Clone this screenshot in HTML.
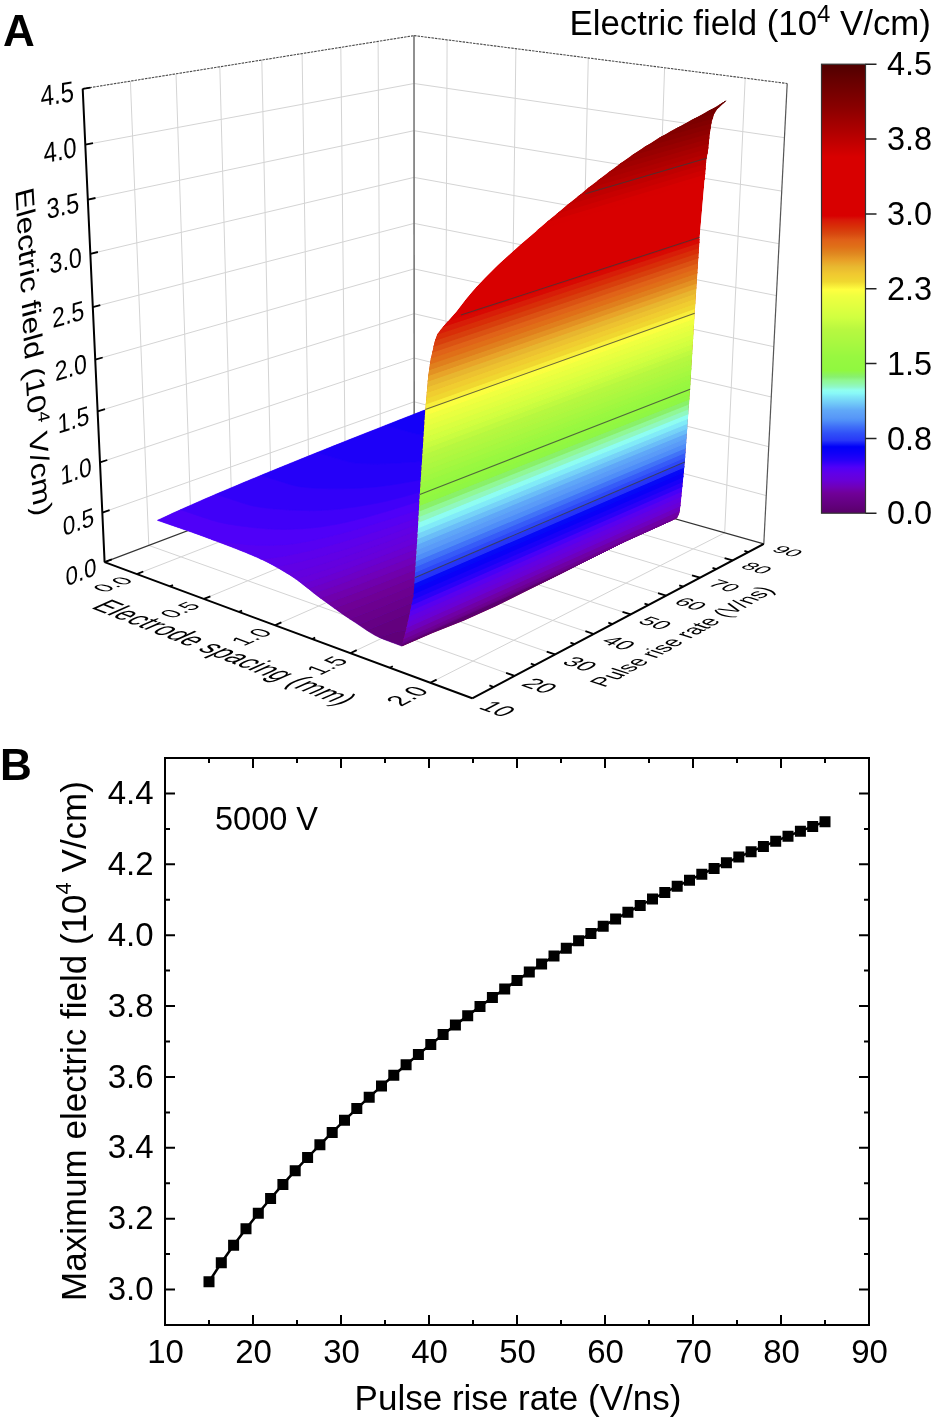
<!DOCTYPE html>
<html><head><meta charset="utf-8"><style>html,body{margin:0;padding:0;background:#fff}svg{display:block;will-change:transform}</style></head>
<body>
<svg width="934" height="1420" viewBox="0 0 934 1420" font-family="Liberation Sans, sans-serif">
<rect width="934" height="1420" fill="#fff"/>
<path d="M148.8,545.4 L130.4,81.2M191.2,529.4 L176,73.8M231.9,514 L219.8,66.8M271.2,499.1 L261.8,60.1M308.9,484.8 L302.1,53.6M345.3,471.1 L340.8,47.4M380.4,457.8 L378.1,41.4M102.3,512.6 L414.2,401.8M100,462.4 L414.1,358M97.6,411.4 L414.1,313.7M95.2,359.6 L414.1,268.9M92.8,307.1 L414.1,223.4M90.4,253.8 L414,177.4M87.9,199.6 L414,130.7M85.3,144.7 L414,83.5M445.4,453.8 L447.1,39.9M510.2,472.2 L515.9,48.7M578.2,491.4 L588.3,58M649.6,511.6 L664.6,67.7M724.7,532.8 L745.2,78.1M414.2,401.8 L766.3,495.6M414.1,358 L768.8,446.7M414.1,313.7 L771.3,397M414.1,268.9 L773.8,346.7M414.1,223.4 L776.4,295.6M414,177.4 L779.1,243.7M414,130.7 L781.8,191.1M414,83.5 L784.5,137.7M136.8,574.1 L445.4,453.8M203.9,598.9 L510.2,472.2M275,625.3 L578.2,491.4M350.3,653.2 L649.6,511.6M430.3,682.8 L724.7,532.8M148.8,545.4 L514.6,675.9M191.2,529.4 L555,654.4M231.9,514 L593.7,634M271.2,499.1 L630.7,614.4M308.9,484.8 L666.1,595.6M345.3,471.1 L700,577.7M380.4,457.8 L732.6,560.4" stroke="#d4d4d4" stroke-width="1" fill="none"/>
<path d="M82.7,88.8 L414,35.6M414,35.6 L787.2,83.5" stroke="#4a4a4a" stroke-width="1.1" stroke-dasharray="2.5,1" fill="none"/>
<path d="M414.2,445 L414,35.6" stroke="#777" stroke-width="1.6" fill="none"/>
<path d="M763.8,543.9 L787.2,83.5" stroke="#555" stroke-width="1.2" fill="none"/>
<path d="M104.6,562.1 L414.2,445M414.2,445 L763.8,543.9" stroke="#333" stroke-width="1.15" fill="none"/>
<path d="M104.6,562.1 L82.7,88.8M104.6,562.1 L472.2,698.3M472.2,698.3 L763.8,543.9" stroke="#000" stroke-width="2" fill="none" stroke-linejoin="miter"/>
<path d="M104.6,562.1 L111.8,559.4M102.3,512.6 L109.6,510.1M100,462.4 L107.3,460M97.6,411.4 L105,409.1M95.2,359.6 L102.7,357.5M92.8,307.1 L100.3,305.2M90.4,253.8 L97.9,252M87.9,199.6 L95.5,198M85.3,144.7 L93,143.2M82.7,88.8 L90.5,87.6M136.8,574.1 L143.3,571.5M169.9,586.3 L173,585.1M203.9,598.9 L210.4,596.3M238.9,611.9 L242.1,610.6M275,625.3 L281.4,622.4M312.1,639 L315.2,637.6M350.3,653.2 L356.7,650.1M389.7,667.8 L392.8,666.3M430.3,682.8 L436.6,679.6M493.6,687 L489.4,685.4M514.6,675.9 L506.1,672.9M535,665 L530.8,663.6M555,654.4 L546.7,651.6M574.6,644.1 L570.4,642.7M593.7,634 L585.4,631.2M612.4,624.1 L608.3,622.7M630.7,614.4 L622.5,611.8M648.6,604.9 L644.5,603.6M666.1,595.6 L658,593.1M683.2,586.6 L679.2,585.3M700,577.7 L692,575.3M716.5,569 L712.5,567.8M732.6,560.4 L724.6,558.1M748.3,552.1 L744.4,550.9" stroke="#000" stroke-width="1.8" fill="none"/>
<clipPath id="pc"><polygon points="330,700 401.6,646.4 432.1,633.3 464.2,620.5 496.4,606 528.5,590 560.6,573.9 592.7,557.8 624.9,541.8 657,527.3 673,520 700,508 700,0 100,0 100,700"/></clipPath><g clip-path="url(#pc)">
<polygon points="157.4,520.3 163.1,522.3 168.8,524.3 174.5,526.3 180.3,528.3 186.1,530.3 192,532.3 197.8,534.4 203.7,536.5 209.7,538.7 215.6,540.9 221.6,543.2 227.6,545.5 233.7,547.8 239.7,550.2 245.8,552.6 252,555.2 258.2,557.8 264.4,560.7 270.6,563.9 276.9,567.3 283.2,571 289.5,574.8 295.9,579.1 302.3,583.9 308.8,589 315.2,594.2 321.7,599 328.2,603.8 334.8,608.5 341.4,613.2 348,617.7 354.6,622.1 361.3,626.6 368,631.1 374.7,635.1 381.4,638.4 388.2,641 395,643.6 401.9,646.1 401.9,646.1 412.8,641.1 423.7,636.3 434.4,631.4 445,626.7 455.5,622 465.9,617.3 476.2,612.7 486.4,608.2 496.4,603.6 506.4,599.2 516.3,594.8 526.1,590.4 535.8,586.1 545.4,581.8 554.9,577.5 564.3,573.3 573.6,569.2 582.8,565 592,560.9 601,556.9 610,552.9 618.9,548.9 627.7,545 636.4,541 645,537.2 653.6,533.3 662.1,529.5 670.5,525.8 678.8,522 678.8,522 671.8,520.9 664.8,519.3 657.9,517.4 651,515.3 644.1,513.2 637.3,510.4 630.6,506.6 623.9,502.2 617.2,497.7 610.6,493.4 604,488.9 597.4,484.1 590.8,479.3 584.3,474.5 577.8,469.3 571.4,464 564.9,458.8 558.5,454.3 552.1,450.4 545.7,446.8 539.3,443.5 532.9,440.4 526.6,437.8 520.3,435.5 514,433.3 507.7,431.2 501.5,429.1 495.3,427.2 489.1,425.3 483,423.4 476.9,421.6 470.8,419.8 464.7,418.1 458.6,416.4 452.6,414.8 446.6,413.2 440.7,411.6 434.7,410 428.8,408.4 428.8,408.4 420.6,411.6 412.3,414.9 403.9,418.1 395.5,421.4 387,424.8 378.4,428.2 369.7,431.6 361,435 352.2,438.5 343.2,442.1 334.3,445.6 325.2,449.3 316,452.9 306.8,456.6 297.5,460.4 288.1,464.2 278.6,468.1 269,472 259.3,476 249.5,480.1 239.7,484.2 229.7,488.4 219.7,492.6 209.5,497 199.3,501.4 189,505.9 178.5,510.6 168,515.4 157.4,520.3" fill="#5300f5"/>
<path d="M379.6,637.6 L381.8,638.6 L384,639.4 L386.2,640.3 L388.4,641.1 L390.7,642 L392.9,642.8 L395.1,643.6 L397.4,644.4 L399.6,645.3 L401.9,646.1 L405.1,644.6 L408.3,643.2 L411.5,641.7 L414.7,640.3 L417.9,638.9 L421,637.4 L424.2,636 L427.4,634.6 L430.5,633.2 L433.6,631.8 L435.6,630.9 L435.3,629.9 L435.2,629.3 L432.6,628.7 L431.6,628.6 L429.2,628.4 L425.1,628.4 L424.2,628.4 L420.4,628.6 L418.4,628.9 L415.2,629.2 L413,629.4 L409.5,629.9 L407.9,630.1 L403.6,630.7 L402.9,630.8 L398,631.5 L397.3,631.6 L394,632.6 L390.2,633.8 L386.4,635 L383.3,635.9 L382.7,636.1 L379.2,637.4 L379.6,637.6Z" fill="#600079" stroke="#600079" stroke-width="0.5" fill-rule="evenodd"/>
<path d="M368.5,631.4 L370.7,632.8 L372.9,634.1 L375.1,635.4 L377.4,636.5 L379.2,637.4 L382.7,636.1 L383.3,635.9 L386.4,635 L390.2,633.8 L394,632.6 L397.3,631.6 L398,631.5 L402.9,630.8 L403.6,630.7 L407.9,630.1 L409.5,629.9 L413,629.4 L415.2,629.2 L418.4,628.9 L420.4,628.6 L424.2,628.4 L425.1,628.4 L429.2,628.4 L431.6,628.6 L432.6,628.7 L435.2,629.3 L435.3,629.9 L435.6,630.9 L436.7,630.4 L439.9,629 L443,627.6 L446.1,626.2 L449.1,624.8 L452.2,623.4 L455.3,622.1 L458.3,620.7 L461.4,619.3 L464.4,618 L467.4,616.6 L470.5,615.3 L473.5,613.9 L476.5,612.6 L479.5,611.2 L482.5,609.9 L485.4,608.6 L488.4,607.2 L491.4,605.9 L494.3,604.6 L497.3,603.3 L500.2,602 L503.1,600.7 L506,599.4 L508.9,598.1 L511.8,596.8 L514.7,595.5 L517.6,594.2 L520.5,592.9 L523.3,591.6 L526.2,590.3 L529,589.1 L531.9,587.8 L534.7,586.5 L537.5,585.3 L540.3,584 L543.2,582.8 L546,581.5 L548.7,580.3 L551.5,579 L554.3,577.8 L557.1,576.5 L559.8,575.3 L562.6,574.1 L565.3,572.9 L568.1,571.6 L570.8,570.4 L573.5,569.2 L576.2,568 L578.9,566.8 L581.6,565.6 L584.3,564.4 L587,563.2 L589.7,562 L592.3,560.8 L595,559.6 L597.7,558.4 L600.3,557.2 L602.9,556 L605.6,554.9 L608.2,553.7 L610.8,552.5 L613.4,551.3 L616,550.2 L618.6,549 L621.2,547.9 L623.8,546.7 L626.4,545.5 L628.9,544.4 L631.5,543.3 L634,542.1 L636.6,541 L639.1,539.8 L641.6,538.7 L643.6,537.8 L644.1,537.6 L646.3,536.4 L648.6,535.2 L650.8,534 L653,532.9 L655.2,531.7 L657.4,530.6 L659.6,529.4 L661.8,528.3 L662.1,528.1 L664,527.1 L666.2,526 L668.4,524.8 L670.5,523.7 L672.7,522.5 L674.9,521.4 L674.2,521.3 L671.9,520.9 L669.6,520.4 L667.3,519.9 L665,519.4 L662.8,518.8 L660.5,518.2 L658.2,517.5 L656,516.8 L653.7,516.2 L651.4,515.5 L649.2,514.8 L646.9,514.1 L644.7,513.4 L642.5,512.7 L640.2,511.8 L639,511.3 L636.7,512.3 L634.3,513.4 L631.9,514.4 L629.6,515.5 L627.2,516.6 L624.8,517.6 L622.4,518.7 L620,519.8 L617.6,520.8 L615.2,521.9 L612.8,523 L610.3,524.1 L607.9,525.2 L605.4,526.3 L603,527.3 L600.5,528.4 L598.1,529.5 L596.3,530.3 L595.6,530.6 L593.1,531.8 L590.7,532.9 L588.2,534 L585.7,535.1 L583.2,536.2 L580.7,537.3 L578.2,538.5 L575.7,539.6 L573.1,540.7 L570.6,541.9 L568.1,543 L565.5,544.2 L562.9,545.3 L560.4,546.4 L557.8,547.6 L555.2,548.7 L552.6,549.9 L550,551.1 L547.4,552.2 L544.8,553.4 L542.2,554.6 L539.5,555.7 L536.9,556.9 L534.2,558.1 L531.6,559.3 L528.9,560.4 L526.2,561.6 L523.5,562.8 L520.8,564 L518.1,565.2 L515.4,566.4 L512.7,567.6 L510.3,568.7 L510,568.8 L507.2,570 L504.5,571.2 L501.8,572.4 L499,573.7 L496.2,574.9 L493.5,576.1 L490.7,577.4 L487.9,578.6 L485.1,579.8 L482.3,581.1 L479.4,582.3 L476.6,583.6 L473.8,584.8 L470.9,586.1 L468,587.3 L465.2,588.6 L462.3,589.8 L459.4,591.1 L456.5,592.4 L453.6,593.6 L450.6,594.9 L447.7,596.2 L444.7,597.5 L441.8,598.7 L438.8,600 L435.8,601.3 L432.8,602.6 L429.8,603.9 L426.8,605.2 L423.8,606.5 L420.7,607.8 L417.7,609.1 L414.6,610.4 L411.5,611.7 L408.4,613.1 L405.3,614.4 L402.2,615.7 L399.1,617 L395.9,618.3 L392.8,619.7 L389.6,621 L386.4,622.3 L383.2,623.6 L379.9,625 L376.7,626.3 L373.4,627.6 L370.1,629 L366.8,630.3 L368.5,631.4Z" fill="#63007e" stroke="#63007e" stroke-width="0.5" fill-rule="evenodd"/>
<path d="M359.8,625.6 L362,627.1 L364.1,628.5 L366.3,630 L366.8,630.3 L370.1,629 L373.4,627.6 L376.7,626.3 L379.9,625 L383.2,623.6 L386.4,622.3 L389.6,621 L392.8,619.7 L395.9,618.3 L399.1,617 L402.2,615.7 L405.3,614.4 L408.4,613.1 L411.5,611.7 L414.6,610.4 L417.7,609.1 L420.7,607.8 L423.8,606.5 L426.8,605.2 L429.8,603.9 L432.8,602.6 L435.8,601.3 L438.8,600 L441.8,598.7 L444.7,597.5 L447.7,596.2 L450.6,594.9 L453.6,593.6 L456.5,592.4 L459.4,591.1 L462.3,589.8 L465.2,588.6 L468,587.3 L470.9,586.1 L473.8,584.8 L476.6,583.6 L479.4,582.3 L482.3,581.1 L485.1,579.8 L487.9,578.6 L490.7,577.4 L493.5,576.1 L496.2,574.9 L499,573.7 L501.8,572.4 L504.5,571.2 L507.2,570 L510,568.8 L510.3,568.7 L512.7,567.6 L515.4,566.4 L518.1,565.2 L520.8,564 L523.5,562.8 L526.2,561.6 L528.9,560.4 L531.6,559.3 L534.2,558.1 L536.9,556.9 L539.5,555.7 L542.2,554.6 L544.8,553.4 L547.4,552.2 L550,551.1 L552.6,549.9 L555.2,548.7 L557.8,547.6 L560.4,546.4 L562.9,545.3 L565.5,544.2 L568.1,543 L570.6,541.9 L573.1,540.7 L575.7,539.6 L578.2,538.5 L580.7,537.3 L583.2,536.2 L585.7,535.1 L588.2,534 L590.7,532.9 L593.1,531.8 L595.6,530.6 L596.3,530.3 L598.1,529.5 L600.5,528.4 L603,527.3 L605.4,526.3 L607.9,525.2 L610.3,524.1 L612.8,523 L615.2,521.9 L617.6,520.8 L620,519.8 L622.4,518.7 L624.8,517.6 L627.2,516.6 L629.6,515.5 L631.9,514.4 L634.3,513.4 L636.7,512.3 L639,511.3 L638,510.8 L635.8,509.6 L633.6,508.4 L631.4,507.1 L630.2,506.4 L627.9,507.4 L625.6,508.5 L623.2,509.6 L620.9,510.6 L618.5,511.7 L616.1,512.7 L613.8,513.8 L611.4,514.9 L609,516 L606.6,517 L604.2,518.1 L601.8,519.2 L599.4,520.3 L599.3,520.3 L596.9,521.4 L594.5,522.5 L592.1,523.5 L589.6,524.6 L587.2,525.7 L584.7,526.9 L582.2,528 L579.8,529.1 L577.3,530.2 L574.8,531.3 L572.3,532.4 L569.8,533.5 L567.3,534.7 L564.8,535.8 L562.2,536.9 L559.7,538 L557.2,539.2 L554.6,540.3 L552.1,541.5 L549.5,542.6 L546.9,543.7 L544.3,544.9 L541.7,546 L539.1,547.2 L536.5,548.4 L533.9,549.5 L531.3,550.7 L529.9,551.3 L528.6,551.9 L526,553 L523.4,554.2 L520.7,555.4 L518,556.6 L515.4,557.8 L512.7,558.9 L510,560.1 L507.3,561.3 L504.6,562.5 L501.9,563.7 L499.1,564.9 L496.4,566.1 L493.7,567.3 L490.9,568.6 L488.1,569.8 L485.4,571 L482.6,572.2 L479.8,573.4 L477,574.7 L474.2,575.9 L471.3,577.1 L468.5,578.4 L465.7,579.6 L462.8,580.8 L459.9,582.1 L457.1,583.3 L454.2,584.6 L451.3,585.8 L448.4,587.1 L445.5,588.4 L442.5,589.6 L439.6,590.9 L436.6,592.2 L433.7,593.4 L430.7,594.7 L427.7,596 L424.7,597.3 L421.7,598.6 L418.7,599.8 L415.7,601.1 L412.6,602.4 L409.5,603.7 L406.5,605 L403.4,606.3 L400.3,607.6 L397.2,608.9 L394,610.2 L390.9,611.5 L387.7,612.8 L384.5,614.1 L381.3,615.4 L378.1,616.8 L374.9,618.1 L371.6,619.4 L368.3,620.7 L365,622 L361.7,623.3 L358.4,624.6 L359.8,625.6ZM643.6,537.8 L644.2,537.6 L646.7,536.4 L649.2,535.3 L651.7,534.2 L654.2,533.1 L656.7,532 L659.2,530.8 L661.7,529.7 L664.1,528.6 L666.6,527.5 L669,526.4 L671.5,525.3 L673.9,524.2 L676.4,523.1 L678.8,522 L676.5,521.7 L674.9,521.4 L672.7,522.5 L670.5,523.7 L668.4,524.8 L666.2,526 L664,527.1 L662.1,528.1 L661.8,528.3 L659.6,529.4 L657.4,530.6 L655.2,531.7 L653,532.9 L650.8,534 L648.6,535.2 L646.3,536.4 L644.1,537.6 L643.6,537.8Z" fill="#660084" stroke="#660084" stroke-width="0.5" fill-rule="evenodd"/>
<path d="M351,619.7 L353.2,621.2 L355.4,622.6 L357.6,624.1 L358.4,624.6 L361.7,623.3 L365,622 L368.3,620.7 L371.6,619.4 L374.9,618.1 L378.1,616.8 L381.3,615.4 L384.5,614.1 L387.7,612.8 L390.9,611.5 L394,610.2 L397.2,608.9 L400.3,607.6 L403.4,606.3 L406.5,605 L409.5,603.7 L412.6,602.4 L415.7,601.1 L418.7,599.8 L421.7,598.6 L424.7,597.3 L427.7,596 L430.7,594.7 L433.7,593.4 L436.6,592.2 L439.6,590.9 L442.5,589.6 L445.5,588.4 L448.4,587.1 L451.3,585.8 L454.2,584.6 L457.1,583.3 L459.9,582.1 L462.8,580.8 L465.7,579.6 L468.5,578.4 L471.3,577.1 L474.2,575.9 L477,574.7 L479.8,573.4 L482.6,572.2 L485.4,571 L488.1,569.8 L490.9,568.6 L493.7,567.3 L496.4,566.1 L499.1,564.9 L501.9,563.7 L504.6,562.5 L507.3,561.3 L510,560.1 L512.7,558.9 L515.4,557.8 L518,556.6 L520.7,555.4 L523.4,554.2 L526,553 L528.6,551.9 L529.9,551.3 L531.3,550.7 L533.9,549.5 L536.5,548.4 L539.1,547.2 L541.7,546 L544.3,544.9 L546.9,543.7 L549.5,542.6 L552.1,541.5 L554.6,540.3 L557.2,539.2 L559.7,538 L562.2,536.9 L564.8,535.8 L567.3,534.7 L569.8,533.5 L572.3,532.4 L574.8,531.3 L577.3,530.2 L579.8,529.1 L582.2,528 L584.7,526.9 L587.2,525.7 L589.6,524.6 L592.1,523.5 L594.5,522.5 L596.9,521.4 L599.3,520.3 L599.4,520.3 L601.8,519.2 L604.2,518.1 L606.6,517 L609,516 L611.4,514.9 L613.8,513.8 L616.1,512.7 L618.5,511.7 L620.9,510.6 L623.2,509.6 L625.6,508.5 L627.9,507.4 L630.2,506.4 L629.2,505.7 L627,504.3 L624.8,502.8 L623.9,502.2 L621.6,503.3 L619.2,504.3 L616.9,505.4 L614.5,506.4 L612.2,507.5 L609.8,508.5 L607.4,509.6 L605,510.7 L602.6,511.7 L600.2,512.8 L599.2,513.3 L597.8,513.9 L595.4,514.9 L593,516 L590.5,517.1 L588.1,518.2 L585.7,519.3 L583.2,520.4 L580.7,521.4 L578.3,522.5 L575.8,523.6 L573.3,524.7 L570.8,525.8 L568.3,526.9 L565.8,528.1 L563.3,529.2 L560.8,530.3 L558.3,531.4 L555.7,532.5 L553.2,533.6 L550.6,534.8 L548.1,535.9 L545.5,537 L542.9,538.1 L540.3,539.3 L537.7,540.4 L535.1,541.6 L532.5,542.7 L529.9,543.9 L527.3,545 L524.6,546.2 L522,547.3 L520.9,547.8 L519.3,548.5 L516.7,549.7 L514,550.8 L511.3,552 L508.6,553.2 L506,554.3 L503.2,555.5 L500.5,556.7 L497.8,557.9 L495.1,559.1 L492.3,560.3 L489.6,561.4 L486.8,562.6 L484,563.8 L481.3,565 L478.5,566.3 L475.7,567.5 L472.9,568.7 L470,569.9 L467.2,571.1 L464.4,572.3 L461.5,573.5 L458.6,574.8 L455.8,576 L452.9,577.2 L450,578.5 L447.1,579.7 L444.2,580.9 L441.2,582.2 L438.3,583.4 L435.3,584.7 L432.4,585.9 L429.4,587.2 L426.4,588.4 L423.4,589.7 L420.4,590.9 L417.3,592.2 L414.3,593.4 L411.2,594.7 L408.2,596 L405.1,597.2 L402,598.5 L398.8,599.8 L395.7,601.1 L392.6,602.3 L389.4,603.6 L386.2,604.9 L383,606.2 L379.8,607.4 L376.5,608.7 L373.6,609.9 L373.3,610 L370,611.3 L366.7,612.5 L363.3,613.8 L360,615.1 L356.6,616.4 L353.2,617.6 L349.7,618.9 L351,619.7Z" fill="#69008a" stroke="#69008a" stroke-width="0.5" fill-rule="evenodd"/>
<path d="M342.4,613.9 L344.5,615.4 L346.7,616.9 L348.9,618.3 L349.7,618.9 L353.2,617.6 L356.6,616.4 L360,615.1 L363.3,613.8 L366.7,612.5 L370,611.3 L373.3,610 L373.6,609.9 L376.5,608.7 L379.8,607.4 L383,606.2 L386.2,604.9 L389.4,603.6 L392.6,602.3 L395.7,601.1 L398.8,599.8 L402,598.5 L405.1,597.2 L408.2,596 L411.2,594.7 L414.3,593.4 L417.3,592.2 L420.4,590.9 L423.4,589.7 L426.4,588.4 L429.4,587.2 L432.4,585.9 L435.3,584.7 L438.3,583.4 L441.2,582.2 L444.2,580.9 L447.1,579.7 L450,578.5 L452.9,577.2 L455.8,576 L458.6,574.8 L461.5,573.5 L464.4,572.3 L467.2,571.1 L470,569.9 L472.9,568.7 L475.7,567.5 L478.5,566.3 L481.3,565 L484,563.8 L486.8,562.6 L489.6,561.4 L492.3,560.3 L495.1,559.1 L497.8,557.9 L500.5,556.7 L503.2,555.5 L506,554.3 L508.6,553.2 L511.3,552 L514,550.8 L516.7,549.7 L519.3,548.5 L520.9,547.8 L522,547.3 L524.6,546.2 L527.3,545 L529.9,543.9 L532.5,542.7 L535.1,541.6 L537.7,540.4 L540.3,539.3 L542.9,538.1 L545.5,537 L548.1,535.9 L550.6,534.8 L553.2,533.6 L555.7,532.5 L558.3,531.4 L560.8,530.3 L563.3,529.2 L565.8,528.1 L568.3,526.9 L570.8,525.8 L573.3,524.7 L575.8,523.6 L578.3,522.5 L580.7,521.4 L583.2,520.4 L585.7,519.3 L588.1,518.2 L590.5,517.1 L593,516 L595.4,514.9 L597.8,513.9 L599.2,513.3 L600.2,512.8 L602.6,511.7 L605,510.7 L607.4,509.6 L609.8,508.5 L612.2,507.5 L614.5,506.4 L616.9,505.4 L619.2,504.3 L621.6,503.3 L623.9,502.2 L622.6,501.3 L620.4,499.9 L618.2,498.4 L617.9,498.2 L615.6,499.2 L613.2,500.3 L610.9,501.3 L608.5,502.4 L608.4,502.4 L606.1,503.4 L603.7,504.4 L601.3,505.5 L598.9,506.5 L596.5,507.6 L594.1,508.7 L591.7,509.7 L589.2,510.8 L586.8,511.8 L584.3,512.9 L581.9,514 L579.4,515 L577,516.1 L574.5,517.2 L572,518.3 L569.5,519.4 L567,520.5 L564.5,521.5 L562,522.6 L559.4,523.7 L556.9,524.8 L554.4,525.9 L551.8,527 L549.3,528.1 L546.7,529.3 L544.1,530.4 L541.6,531.5 L539,532.6 L536.4,533.7 L533.8,534.8 L531.1,536 L528.5,537.1 L525.9,538.2 L523.2,539.4 L520.6,540.5 L517.9,541.6 L515.3,542.8 L512.6,543.9 L509.9,545.1 L507.2,546.2 L504.5,547.4 L501.8,548.5 L499.1,549.7 L496.3,550.9 L495.8,551.1 L493.6,552 L490.8,553.2 L488.1,554.4 L485.3,555.5 L482.5,556.7 L479.7,557.9 L476.9,559.1 L474.1,560.3 L471.3,561.4 L468.5,562.6 L465.6,563.8 L462.8,565 L459.9,566.2 L457,567.4 L454.2,568.6 L451.3,569.8 L448.4,571 L445.4,572.2 L442.5,573.5 L439.6,574.7 L436.6,575.9 L433.7,577.1 L430.7,578.3 L428.5,579.2 L427.7,579.6 L424.7,580.8 L421.7,582 L418.7,583.3 L415.7,584.5 L412.6,585.7 L409.5,587 L406.5,588.2 L403.4,589.5 L400.3,590.7 L397.2,592 L394,593.2 L390.9,594.5 L387.7,595.7 L384.6,597 L381.4,598.2 L378.2,599.5 L374.9,600.8 L371.7,602 L368.4,603.3 L365.2,604.5 L361.9,605.8 L358.5,607.1 L355.2,608.3 L354.1,608.7 L351.8,609.6 L348.4,610.8 L345,612.1 L341.6,613.3 L342.4,613.9Z" fill="#6c008f" stroke="#6c008f" stroke-width="0.5" fill-rule="evenodd"/>
<path d="M335.9,609.3 L338.1,610.9 L340.2,612.4 L341.6,613.3 L345,612.1 L348.4,610.8 L351.8,609.6 L354.1,608.7 L355.2,608.3 L358.5,607.1 L361.9,605.8 L365.2,604.5 L368.4,603.3 L371.7,602 L374.9,600.8 L378.2,599.5 L381.4,598.2 L384.6,597 L387.7,595.7 L390.9,594.5 L394,593.2 L397.2,592 L400.3,590.7 L403.4,589.5 L406.5,588.2 L409.5,587 L412.6,585.7 L415.7,584.5 L418.7,583.3 L421.7,582 L424.7,580.8 L427.7,579.6 L428.5,579.2 L430.7,578.3 L433.7,577.1 L436.6,575.9 L439.6,574.7 L442.5,573.5 L445.4,572.2 L448.4,571 L451.3,569.8 L454.2,568.6 L457,567.4 L459.9,566.2 L462.8,565 L465.6,563.8 L468.5,562.6 L471.3,561.4 L474.1,560.3 L476.9,559.1 L479.7,557.9 L482.5,556.7 L485.3,555.5 L488.1,554.4 L490.8,553.2 L493.6,552 L495.8,551.1 L496.3,550.9 L499.1,549.7 L501.8,548.5 L504.5,547.4 L507.2,546.2 L509.9,545.1 L512.6,543.9 L515.3,542.8 L517.9,541.6 L520.6,540.5 L523.2,539.4 L525.9,538.2 L528.5,537.1 L531.1,536 L533.8,534.8 L536.4,533.7 L539,532.6 L541.6,531.5 L544.1,530.4 L546.7,529.3 L549.3,528.1 L551.8,527 L554.4,525.9 L556.9,524.8 L559.4,523.7 L562,522.6 L564.5,521.5 L567,520.5 L569.5,519.4 L572,518.3 L574.5,517.2 L577,516.1 L579.4,515 L581.9,514 L584.3,512.9 L586.8,511.8 L589.2,510.8 L591.7,509.7 L594.1,508.7 L596.5,507.6 L598.9,506.5 L601.3,505.5 L603.7,504.4 L606.1,503.4 L608.4,502.4 L608.5,502.4 L610.9,501.3 L613.2,500.3 L615.6,499.2 L617.9,498.2 L616,497 L613.9,495.6 L611.7,494.1 L611.6,494.1 L609.2,495.1 L606.8,496.1 L606.4,496.3 L604.5,497.1 L602.1,498.2 L599.7,499.2 L597.3,500.2 L594.9,501.3 L592.5,502.3 L590,503.4 L587.6,504.4 L585.2,505.5 L582.7,506.5 L580.3,507.6 L577.8,508.6 L575.3,509.7 L572.9,510.8 L570.4,511.8 L567.9,512.9 L565.4,514 L562.9,515 L560.4,516.1 L557.9,517.2 L555.3,518.3 L552.8,519.4 L550.3,520.4 L547.7,521.5 L545.2,522.6 L542.6,523.7 L540,524.8 L537.4,525.9 L534.8,527 L532.2,528.1 L529.6,529.3 L527,530.4 L524.4,531.5 L521.8,532.6 L519.1,533.7 L516.5,534.8 L513.8,536 L511.1,537.1 L508.5,538.2 L505.8,539.4 L503.1,540.5 L500.4,541.6 L497.7,542.8 L495,543.9 L492.2,545.1 L489.5,546.2 L486.7,547.4 L484,548.5 L481.2,549.7 L478.4,550.9 L475.6,552 L472.9,553.2 L470,554.4 L467.2,555.6 L464.4,556.7 L461.6,557.9 L458.7,559.1 L455.9,560.3 L453,561.5 L450.1,562.7 L447.2,563.8 L444.3,565 L441.4,566.2 L438.5,567.4 L435.6,568.6 L432.6,569.9 L429.7,571.1 L426.7,572.3 L423.7,573.5 L420.7,574.7 L417.7,575.9 L414.7,577.1 L411.7,578.4 L408.6,579.6 L405.6,580.8 L402.5,582 L399.4,583.3 L396.3,584.5 L393.2,585.7 L390.1,587 L386.9,588.2 L383.8,589.5 L380.6,590.7 L377.4,591.9 L374.2,593.2 L371,594.4 L367.7,595.7 L364.5,596.9 L362,597.8 L361.2,598.2 L357.9,599.4 L354.6,600.6 L351.2,601.9 L347.9,603.1 L344.5,604.4 L341.1,605.6 L337.6,606.8 L334.1,608.1 L335.9,609.3Z" fill="#6f0095" stroke="#6f0095" stroke-width="0.5" fill-rule="evenodd"/>
<path d="M327.3,603.1 L329.5,604.7 L331.6,606.2 L333.7,607.8 L334.1,608.1 L337.6,606.8 L341.1,605.6 L344.5,604.4 L347.9,603.1 L351.2,601.9 L354.6,600.6 L357.9,599.4 L361.2,598.2 L362,597.8 L364.5,596.9 L367.7,595.7 L371,594.4 L374.2,593.2 L377.4,591.9 L380.6,590.7 L383.8,589.5 L386.9,588.2 L390.1,587 L393.2,585.7 L396.3,584.5 L399.4,583.3 L402.5,582 L405.6,580.8 L408.6,579.6 L411.7,578.4 L414.7,577.1 L417.7,575.9 L420.7,574.7 L423.7,573.5 L426.7,572.3 L429.7,571.1 L432.6,569.9 L435.6,568.6 L438.5,567.4 L441.4,566.2 L444.3,565 L447.2,563.8 L450.1,562.7 L453,561.5 L455.9,560.3 L458.7,559.1 L461.6,557.9 L464.4,556.7 L467.2,555.6 L470,554.4 L472.9,553.2 L475.6,552 L478.4,550.9 L481.2,549.7 L484,548.5 L486.7,547.4 L489.5,546.2 L492.2,545.1 L495,543.9 L497.7,542.8 L500.4,541.6 L503.1,540.5 L505.8,539.4 L508.5,538.2 L511.1,537.1 L513.8,536 L516.5,534.8 L519.1,533.7 L521.8,532.6 L524.4,531.5 L527,530.4 L529.6,529.3 L532.2,528.1 L534.8,527 L537.4,525.9 L540,524.8 L542.6,523.7 L545.2,522.6 L547.7,521.5 L550.3,520.4 L552.8,519.4 L555.3,518.3 L557.9,517.2 L560.4,516.1 L562.9,515 L565.4,514 L567.9,512.9 L570.4,511.8 L572.9,510.8 L575.3,509.7 L577.8,508.6 L580.3,507.6 L582.7,506.5 L585.2,505.5 L587.6,504.4 L590,503.4 L592.5,502.3 L594.9,501.3 L597.3,500.2 L599.7,499.2 L602.1,498.2 L604.5,497.1 L606.4,496.3 L606.8,496.1 L609.2,495.1 L611.6,494.1 L609.5,492.7 L607.4,491.2 L605.7,490.1 L603.3,491.1 L601,492.1 L598.6,493.1 L596.2,494.2 L593.8,495.2 L591.4,496.2 L589,497.2 L586.5,498.3 L584.1,499.3 L581.7,500.3 L579.2,501.4 L576.8,502.4 L574.3,503.5 L571.9,504.5 L569.4,505.6 L566.9,506.6 L564.4,507.7 L561.9,508.8 L559.4,509.8 L556.9,510.9 L554.4,512 L551.9,513 L549.3,514.1 L546.8,515.2 L544.2,516.3 L541.7,517.3 L539.1,518.4 L536.5,519.5 L534,520.6 L531.4,521.7 L528.8,522.8 L526.2,523.9 L523.6,525 L520.9,526.1 L518.3,527.2 L515.7,528.3 L513,529.4 L510.4,530.5 L507.7,531.6 L505,532.8 L502.3,533.9 L499.6,535 L496.9,536.1 L494.2,537.3 L491.5,538.4 L488.8,539.5 L486,540.7 L483.3,541.8 L481.2,542.7 L480.5,543 L477.8,544.1 L475,545.3 L472.2,546.4 L469.4,547.6 L466.6,548.7 L463.8,549.9 L461.3,550.9 L461,551.1 L458.1,552.2 L455.3,553.4 L452.4,554.6 L449.6,555.7 L446.7,556.9 L443.8,558.1 L440.9,559.3 L438,560.5 L435.1,561.6 L432.1,562.8 L429.2,564 L426.2,565.2 L423.2,566.4 L420.3,567.6 L417.3,568.8 L414.3,570 L411.2,571.2 L408.2,572.4 L405.2,573.6 L402.1,574.9 L399,576.1 L396,577.3 L392.9,578.5 L389.7,579.7 L386.6,580.9 L383.5,582.2 L380.3,583.4 L377.1,584.6 L373.9,585.8 L370.7,587.1 L367.5,588.3 L364.2,589.5 L361.7,590.5 L361,590.7 L357.7,592 L354.4,593.2 L351.1,594.4 L347.7,595.6 L344.3,596.9 L340.9,598.1 L337.5,599.3 L334.1,600.5 L330.6,601.7 L329.7,602 L327.1,602.9 L327.3,603.1Z" fill="#70009f" stroke="#70009f" stroke-width="0.5" fill-rule="evenodd"/>
<path d="M320.9,598.4 L323,600 L325.2,601.6 L327.1,602.9 L329.7,602 L330.6,601.7 L334.1,600.5 L337.5,599.3 L340.9,598.1 L344.3,596.9 L347.7,595.6 L351.1,594.4 L354.4,593.2 L357.7,592 L361,590.7 L361.7,590.5 L364.2,589.5 L367.5,588.3 L370.7,587.1 L373.9,585.8 L377.1,584.6 L380.3,583.4 L383.5,582.2 L386.6,580.9 L389.7,579.7 L392.9,578.5 L396,577.3 L399,576.1 L402.1,574.9 L405.2,573.6 L408.2,572.4 L411.2,571.2 L414.3,570 L417.3,568.8 L420.3,567.6 L423.2,566.4 L426.2,565.2 L429.2,564 L432.1,562.8 L435.1,561.6 L438,560.5 L440.9,559.3 L443.8,558.1 L446.7,556.9 L449.6,555.7 L452.4,554.6 L455.3,553.4 L458.1,552.2 L461,551.1 L461.3,550.9 L463.8,549.9 L466.6,548.7 L469.4,547.6 L472.2,546.4 L475,545.3 L477.8,544.1 L480.5,543 L481.2,542.7 L483.3,541.8 L486,540.7 L488.8,539.5 L491.5,538.4 L494.2,537.3 L496.9,536.1 L499.6,535 L502.3,533.9 L505,532.8 L507.7,531.6 L510.4,530.5 L513,529.4 L515.7,528.3 L518.3,527.2 L520.9,526.1 L523.6,525 L526.2,523.9 L528.8,522.8 L531.4,521.7 L534,520.6 L536.5,519.5 L539.1,518.4 L541.7,517.3 L544.2,516.3 L546.8,515.2 L549.3,514.1 L551.9,513 L554.4,512 L556.9,510.9 L559.4,509.8 L561.9,508.8 L564.4,507.7 L566.9,506.6 L569.4,505.6 L571.9,504.5 L574.3,503.5 L576.8,502.4 L579.2,501.4 L581.7,500.3 L584.1,499.3 L586.5,498.3 L589,497.2 L591.4,496.2 L593.8,495.2 L596.2,494.2 L598.6,493.1 L601,492.1 L603.3,491.1 L605.7,490.1 L605.2,489.7 L603,488.2 L600.9,486.6 L600.3,486.2 L597.9,487.2 L595.5,488.2 L593.1,489.2 L590.7,490.3 L588.3,491.3 L585.9,492.3 L583.5,493.3 L581,494.3 L578.6,495.4 L576.2,496.4 L573.7,497.4 L571.3,498.5 L568.8,499.5 L566.3,500.5 L563.8,501.6 L563.8,501.6 L561.3,502.6 L558.9,503.7 L556.4,504.7 L553.8,505.8 L551.3,506.9 L548.8,507.9 L546.3,509 L543.7,510 L541.2,511.1 L538.6,512.2 L536.1,513.3 L533.5,514.3 L530.9,515.4 L528.3,516.5 L525.7,517.6 L523.1,518.7 L520.5,519.7 L517.9,520.8 L515.2,521.9 L512.6,523 L509.9,524.1 L507.3,525.2 L504.6,526.3 L501.9,527.4 L499.3,528.6 L496.6,529.7 L493.9,530.8 L491.1,531.9 L488.4,533 L485.7,534.1 L483,535.3 L480.2,536.4 L477.4,537.5 L474.7,538.7 L471.9,539.8 L469.1,540.9 L466.3,542.1 L463.5,543.2 L460.7,544.4 L457.9,545.5 L455,546.7 L452.2,547.8 L449.3,549 L446.4,550.2 L443.6,551.3 L440.7,552.5 L437.8,553.6 L434.9,554.8 L431.9,556 L429,557.2 L426,558.3 L423.1,559.5 L420.1,560.7 L417.1,561.9 L415.9,562.4 L414.1,563.1 L411.1,564.3 L408.1,565.4 L405.1,566.6 L402,567.8 L398.9,569 L395.9,570.2 L392.8,571.4 L389.7,572.6 L386.5,573.8 L383.4,575 L380.3,576.2 L377.1,577.4 L373.9,578.6 L370.7,579.8 L367.5,581.1 L364.2,582.3 L361,583.5 L357.7,584.7 L357.3,584.8 L354.4,585.9 L351.1,587.1 L347.8,588.3 L344.4,589.5 L341,590.7 L337.6,591.9 L334.2,593.1 L330.7,594.3 L328.2,595.2 L327.2,595.5 L323.7,596.7 L320.1,597.9 L320.9,598.4Z" fill="#7000ac" stroke="#7000ac" stroke-width="0.5" fill-rule="evenodd"/>
<path d="M314.5,593.6 L316.6,595.3 L318.8,596.9 L320.1,597.9 L323.7,596.7 L327.2,595.5 L328.2,595.2 L330.7,594.3 L334.2,593.1 L337.6,591.9 L341,590.7 L344.4,589.5 L347.8,588.3 L351.1,587.1 L354.4,585.9 L357.3,584.8 L357.7,584.7 L361,583.5 L364.2,582.3 L367.5,581.1 L370.7,579.8 L373.9,578.6 L377.1,577.4 L380.3,576.2 L383.4,575 L386.5,573.8 L389.7,572.6 L392.8,571.4 L395.9,570.2 L398.9,569 L402,567.8 L405.1,566.6 L408.1,565.4 L411.1,564.3 L414.1,563.1 L415.9,562.4 L417.1,561.9 L420.1,560.7 L423.1,559.5 L426,558.3 L429,557.2 L431.9,556 L434.9,554.8 L437.8,553.6 L440.7,552.5 L443.6,551.3 L446.4,550.2 L449.3,549 L452.2,547.8 L455,546.7 L457.9,545.5 L460.7,544.4 L463.5,543.2 L466.3,542.1 L469.1,540.9 L471.9,539.8 L474.7,538.7 L477.4,537.5 L480.2,536.4 L483,535.3 L485.7,534.1 L488.4,533 L491.1,531.9 L493.9,530.8 L496.6,529.7 L499.3,528.6 L501.9,527.4 L504.6,526.3 L507.3,525.2 L509.9,524.1 L512.6,523 L515.2,521.9 L517.9,520.8 L520.5,519.7 L523.1,518.7 L525.7,517.6 L528.3,516.5 L530.9,515.4 L533.5,514.3 L536.1,513.3 L538.6,512.2 L541.2,511.1 L543.7,510 L546.3,509 L548.8,507.9 L551.3,506.9 L553.8,505.8 L556.4,504.7 L558.9,503.7 L561.3,502.6 L563.8,501.6 L563.8,501.6 L566.3,500.5 L568.8,499.5 L571.3,498.5 L573.7,497.4 L576.2,496.4 L578.6,495.4 L581,494.3 L583.5,493.3 L585.9,492.3 L588.3,491.3 L590.7,490.3 L593.1,489.2 L595.5,488.2 L597.9,487.2 L600.3,486.2 L598.7,485.1 L596.6,483.5 L595.1,482.4 L592.7,483.4 L590.3,484.4 L587.9,485.4 L585.5,486.4 L583.1,487.4 L580.6,488.5 L578.2,489.5 L575.8,490.5 L573.3,491.5 L570.9,492.5 L568.4,493.6 L566,494.6 L563.5,495.6 L561,496.6 L558.5,497.7 L556,498.7 L553.5,499.8 L551,500.8 L548.5,501.8 L546,502.9 L543.4,503.9 L540.9,505 L538.3,506.1 L535.8,507.1 L533.2,508.2 L530.6,509.2 L528,510.3 L525.5,511.4 L522.9,512.4 L520.2,513.5 L517.6,514.6 L515,515.7 L512.4,516.8 L509.7,517.8 L507.1,518.9 L504.4,520 L501.7,521.1 L499.1,522.2 L496.4,523.3 L493.7,524.4 L491,525.5 L488.3,526.6 L485.5,527.7 L482.8,528.8 L480.1,529.9 L477.3,531.1 L474.5,532.2 L471.8,533.3 L469,534.4 L466.2,535.6 L463.4,536.7 L460.6,537.8 L457.8,538.9 L454.9,540.1 L452.1,541.2 L449.2,542.4 L446.4,543.5 L443.5,544.6 L440.6,545.8 L437.7,546.9 L434.8,548.1 L431.9,549.2 L429,550.4 L426,551.6 L423.1,552.7 L420.1,553.9 L417.1,555.1 L414.1,556.2 L411.1,557.4 L408.1,558.6 L405.1,559.7 L402,560.9 L399,562.1 L396.5,563 L395.9,563.3 L392.8,564.4 L389.7,565.6 L386.6,566.8 L383.5,568 L380.3,569.2 L377.2,570.4 L374,571.6 L370.8,572.7 L367.6,573.9 L364.4,575.1 L361.1,576.3 L357.9,577.5 L354.6,578.7 L351.3,579.9 L350.7,580.1 L348,581.1 L344.7,582.3 L341.4,583.5 L338,584.7 L334.6,585.9 L331.2,587.1 L327.8,588.3 L324.3,589.5 L321.7,590.4 L320.8,590.6 L317.3,591.8 L313.8,593 L314.5,593.6Z" fill="#7000b9" stroke="#7000b9" stroke-width="0.5" fill-rule="evenodd"/>
<path d="M308.2,588.5 L310.3,590.2 L312.4,591.9 L313.8,593 L317.3,591.8 L320.8,590.6 L321.7,590.4 L324.3,589.5 L327.8,588.3 L331.2,587.1 L334.6,585.9 L338,584.7 L341.4,583.5 L344.7,582.3 L348,581.1 L350.7,580.1 L351.3,579.9 L354.6,578.7 L357.9,577.5 L361.1,576.3 L364.4,575.1 L367.6,573.9 L370.8,572.7 L374,571.6 L377.2,570.4 L380.3,569.2 L383.5,568 L386.6,566.8 L389.7,565.6 L392.8,564.4 L395.9,563.3 L396.5,563 L399,562.1 L402,560.9 L405.1,559.7 L408.1,558.6 L411.1,557.4 L414.1,556.2 L417.1,555.1 L420.1,553.9 L423.1,552.7 L426,551.6 L429,550.4 L431.9,549.2 L434.8,548.1 L437.7,546.9 L440.6,545.8 L443.5,544.6 L446.4,543.5 L449.2,542.4 L452.1,541.2 L454.9,540.1 L457.8,538.9 L460.6,537.8 L463.4,536.7 L466.2,535.6 L469,534.4 L471.8,533.3 L474.5,532.2 L477.3,531.1 L480.1,529.9 L482.8,528.8 L485.5,527.7 L488.3,526.6 L491,525.5 L493.7,524.4 L496.4,523.3 L499.1,522.2 L501.7,521.1 L504.4,520 L507.1,518.9 L509.7,517.8 L512.4,516.8 L515,515.7 L517.6,514.6 L520.2,513.5 L522.9,512.4 L525.5,511.4 L528,510.3 L530.6,509.2 L533.2,508.2 L535.8,507.1 L538.3,506.1 L540.9,505 L543.4,503.9 L546,502.9 L548.5,501.8 L551,500.8 L553.5,499.8 L556,498.7 L558.5,497.7 L561,496.6 L563.5,495.6 L566,494.6 L568.4,493.6 L570.9,492.5 L573.3,491.5 L575.8,490.5 L578.2,489.5 L580.6,488.5 L583.1,487.4 L585.5,486.4 L587.9,485.4 L590.3,484.4 L592.7,483.4 L595.1,482.4 L594.4,481.9 L592.3,480.4 L590.1,478.8 L590,478.7 L587.6,479.7 L585.2,480.7 L582.8,481.7 L580.4,482.6 L577.9,483.7 L577.5,483.8 L575.5,484.7 L573.1,485.7 L570.6,486.7 L568.2,487.7 L565.7,488.7 L563.2,489.7 L560.8,490.7 L558.3,491.8 L555.8,492.8 L553.3,493.8 L550.8,494.8 L548.3,495.9 L545.8,496.9 L543.2,497.9 L540.7,499 L538.1,500 L535.6,501.1 L533,502.1 L530.5,503.2 L527.9,504.2 L525.3,505.3 L522.7,506.3 L520.1,507.4 L517.5,508.4 L514.9,509.5 L512.2,510.6 L509.6,511.6 L506.9,512.7 L504.3,513.8 L501.6,514.9 L498.9,515.9 L496.3,517 L493.6,518.1 L490.9,519.2 L488.2,520.3 L485.4,521.4 L482.7,522.5 L480,523.6 L477.2,524.7 L474.5,525.8 L471.7,526.9 L468.9,528 L466.1,529.1 L463.4,530.2 L461.5,530.9 L460.5,531.3 L457.7,532.4 L454.9,533.6 L452.1,534.7 L449.2,535.8 L446.4,536.9 L443.5,538.1 L440.7,539.2 L437.8,540.3 L434.9,541.5 L432,542.6 L429.1,543.8 L426.1,544.9 L423.2,546.1 L420.2,547.2 L417.3,548.4 L414.3,549.5 L411.3,550.7 L408.3,551.8 L405.3,553 L402.3,554.2 L399.3,555.3 L396.2,556.5 L393.2,557.7 L390.1,558.8 L387,560 L383.9,561.2 L380.8,562.3 L377.7,563.5 L374.6,564.7 L373.8,565 L371.4,565.9 L368.2,567.1 L365.1,568.3 L361.9,569.4 L358.6,570.6 L355.4,571.8 L352.2,573 L348.9,574.2 L345.6,575.4 L342.3,576.6 L339,577.7 L335.6,578.9 L334.9,579.2 L332.2,580.1 L328.9,581.3 L325.4,582.5 L322,583.7 L318.5,584.8 L315,586 L311.5,587.2 L310.3,587.6 L307.9,588.3 L308.2,588.5Z" fill="#6d00c5" stroke="#6d00c5" stroke-width="0.5" fill-rule="evenodd"/>
<path d="M303.9,585.2 L306,586.9 L307.9,588.3 L310.3,587.6 L311.5,587.2 L315,586 L318.5,584.8 L322,583.7 L325.4,582.5 L328.9,581.3 L332.2,580.1 L334.9,579.2 L335.6,578.9 L339,577.7 L342.3,576.6 L345.6,575.4 L348.9,574.2 L352.2,573 L355.4,571.8 L358.6,570.6 L361.9,569.4 L365.1,568.3 L368.2,567.1 L371.4,565.9 L373.8,565 L374.6,564.7 L377.7,563.5 L380.8,562.3 L383.9,561.2 L387,560 L390.1,558.8 L393.2,557.7 L396.2,556.5 L399.3,555.3 L402.3,554.2 L405.3,553 L408.3,551.8 L411.3,550.7 L414.3,549.5 L417.3,548.4 L420.2,547.2 L423.2,546.1 L426.1,544.9 L429.1,543.8 L432,542.6 L434.9,541.5 L437.8,540.3 L440.7,539.2 L443.5,538.1 L446.4,536.9 L449.2,535.8 L452.1,534.7 L454.9,533.6 L457.7,532.4 L460.5,531.3 L461.5,530.9 L463.4,530.2 L466.1,529.1 L468.9,528 L471.7,526.9 L474.5,525.8 L477.2,524.7 L480,523.6 L482.7,522.5 L485.4,521.4 L488.2,520.3 L490.9,519.2 L493.6,518.1 L496.3,517 L498.9,515.9 L501.6,514.9 L504.3,513.8 L506.9,512.7 L509.6,511.6 L512.2,510.6 L514.9,509.5 L517.5,508.4 L520.1,507.4 L522.7,506.3 L525.3,505.3 L527.9,504.2 L530.5,503.2 L533,502.1 L535.6,501.1 L538.1,500 L540.7,499 L543.2,497.9 L545.8,496.9 L548.3,495.9 L550.8,494.8 L553.3,493.8 L555.8,492.8 L558.3,491.8 L560.8,490.7 L563.2,489.7 L565.7,488.7 L568.2,487.7 L570.6,486.7 L573.1,485.7 L575.5,484.7 L577.5,483.8 L577.9,483.7 L580.4,482.6 L582.8,481.7 L585.2,480.7 L587.6,479.7 L590,478.7 L588,477.2 L585.8,475.6 L585,474.9 L582.6,475.9 L580.1,476.9 L577.7,477.9 L575.3,478.9 L572.9,479.9 L570.4,480.9 L568,481.9 L565.5,482.9 L563.1,483.9 L560.6,484.9 L558.1,485.9 L555.7,486.9 L553.2,487.9 L550.7,488.9 L548.2,490 L545.7,491 L543.1,492 L540.6,493 L538.1,494.1 L535.5,495.1 L533,496.1 L530.4,497.2 L527.9,498.2 L525.3,499.3 L522.7,500.3 L520.1,501.3 L517.5,502.4 L514.9,503.4 L512.3,504.5 L509.7,505.6 L507,506.6 L504.4,507.7 L501.7,508.7 L499.1,509.8 L496.4,510.9 L493.8,512 L491.1,513 L488.4,514.1 L485.7,515.2 L483,516.3 L480.3,517.4 L477.5,518.5 L474.8,519.5 L472,520.6 L469.3,521.7 L466.5,522.8 L463.8,523.9 L461,525 L458.2,526.1 L455.4,527.3 L452.6,528.4 L449.7,529.5 L446.9,530.6 L444.1,531.7 L441.2,532.8 L438.4,534 L435.5,535.1 L432.6,536.2 L429.7,537.3 L426.8,538.5 L423.9,539.6 L420.9,540.7 L418,541.9 L415.1,543 L412.1,544.2 L409.1,545.3 L406.1,546.5 L403.1,547.6 L400.1,548.8 L397.1,549.9 L396,550.4 L394.1,551.1 L391,552.2 L387.9,553.4 L384.9,554.6 L381.8,555.7 L378.7,556.9 L375.6,558.1 L372.4,559.2 L369.3,560.4 L366.1,561.6 L362.9,562.7 L359.7,563.9 L356.5,565.1 L353.3,566.2 L350,567.4 L348,568.2 L346.8,568.6 L343.5,569.8 L340.1,570.9 L336.8,572.1 L333.5,573.3 L330.1,574.4 L326.7,575.6 L323.2,576.8 L319.9,577.9 L319.8,577.9 L316.3,579.1 L312.8,580.2 L309.2,581.4 L305.6,582.5 L302,583.7 L303.9,585.2Z" fill="#6a00d0" stroke="#6a00d0" stroke-width="0.5" fill-rule="evenodd"/>
<path d="M295.5,578.8 L297.6,580.3 L299.7,581.9 L301.8,583.5 L302,583.7 L305.6,582.5 L309.2,581.4 L312.8,580.2 L316.3,579.1 L319.8,577.9 L319.9,577.9 L323.2,576.8 L326.7,575.6 L330.1,574.4 L333.5,573.3 L336.8,572.1 L340.1,570.9 L343.5,569.8 L346.8,568.6 L348,568.2 L350,567.4 L353.3,566.2 L356.5,565.1 L359.7,563.9 L362.9,562.7 L366.1,561.6 L369.3,560.4 L372.4,559.2 L375.6,558.1 L378.7,556.9 L381.8,555.7 L384.9,554.6 L387.9,553.4 L391,552.2 L394.1,551.1 L396,550.4 L397.1,549.9 L400.1,548.8 L403.1,547.6 L406.1,546.5 L409.1,545.3 L412.1,544.2 L415.1,543 L418,541.9 L420.9,540.7 L423.9,539.6 L426.8,538.5 L429.7,537.3 L432.6,536.2 L435.5,535.1 L438.4,534 L441.2,532.8 L444.1,531.7 L446.9,530.6 L449.7,529.5 L452.6,528.4 L455.4,527.3 L458.2,526.1 L461,525 L463.8,523.9 L466.5,522.8 L469.3,521.7 L472,520.6 L474.8,519.5 L477.5,518.5 L480.3,517.4 L483,516.3 L485.7,515.2 L488.4,514.1 L491.1,513 L493.8,512 L496.4,510.9 L499.1,509.8 L501.7,508.7 L504.4,507.7 L507,506.6 L509.7,505.6 L512.3,504.5 L514.9,503.4 L517.5,502.4 L520.1,501.3 L522.7,500.3 L525.3,499.3 L527.9,498.2 L530.4,497.2 L533,496.1 L535.5,495.1 L538.1,494.1 L540.6,493 L543.1,492 L545.7,491 L548.2,490 L550.7,488.9 L553.2,487.9 L555.7,486.9 L558.1,485.9 L560.6,484.9 L563.1,483.9 L565.5,482.9 L568,481.9 L570.4,480.9 L572.9,479.9 L575.3,478.9 L577.7,477.9 L580.1,476.9 L582.6,475.9 L585,474.9 L583.7,474 L581.6,472.3 L580.3,471.3 L577.9,472.3 L575.5,473.3 L573.1,474.3 L570.7,475.3 L568.2,476.2 L565.8,477.2 L563.3,478.2 L560.9,479.2 L558.4,480.2 L556,481.2 L553.5,482.2 L551,483.2 L548.5,484.2 L546,485.3 L543.5,486.3 L541,487.3 L538.5,488.3 L535.9,489.3 L533.4,490.3 L530.9,491.4 L528.3,492.4 L525.7,493.4 L523.2,494.5 L520.6,495.5 L518,496.5 L515.4,497.6 L512.8,498.6 L510.2,499.7 L507.6,500.7 L505,501.8 L502.3,502.8 L499.7,503.9 L497,504.9 L494.4,506 L491.7,507.1 L489,508.1 L486.3,509.2 L483.6,510.3 L480.9,511.3 L478.2,512.4 L475.5,513.5 L472.8,514.6 L470,515.6 L467.3,516.7 L464.5,517.8 L461.7,518.9 L459,520 L456.2,521.1 L453.4,522.2 L450.6,523.3 L447.7,524.4 L444.9,525.5 L442.1,526.6 L439.2,527.7 L436.4,528.8 L433.5,529.9 L430.6,531.1 L427.7,532.2 L424.8,533.3 L421.9,534.4 L419,535.6 L416.7,536.4 L416,536.7 L413.1,537.8 L410.1,538.9 L407.1,540.1 L404.1,541.2 L401.1,542.3 L398.1,543.5 L395.1,544.6 L392.1,545.8 L389,546.9 L385.9,548.1 L382.8,549.2 L379.7,550.3 L376.6,551.5 L373.5,552.6 L370.4,553.8 L367.2,555 L364,556.1 L361.9,556.9 L360.8,557.3 L357.6,558.4 L354.4,559.6 L351.1,560.7 L347.9,561.9 L344.6,563 L341.3,564.2 L337.9,565.3 L334.6,566.5 L331.5,567.5 L331.2,567.6 L327.8,568.8 L324.3,569.9 L320.9,571 L317.4,572.2 L313.8,573.3 L310.9,574.2 L310.2,574.4 L306.6,575.5 L302.9,576.6 L299.2,577.7 L295.8,578.7 L295.5,578.8 L295.5,578.8Z" fill="#6700da" stroke="#6700da" stroke-width="0.5" fill-rule="evenodd"/>
<path d="M287.2,573.4 L289.3,574.7 L291.3,576 L293.4,577.4 L295.5,578.8 L295.8,578.7 L299.2,577.7 L302.9,576.6 L306.6,575.5 L310.2,574.4 L310.9,574.2 L313.8,573.3 L317.4,572.2 L320.9,571 L324.3,569.9 L327.8,568.8 L331.2,567.6 L331.5,567.5 L334.6,566.5 L337.9,565.3 L341.3,564.2 L344.6,563 L347.9,561.9 L351.1,560.7 L354.4,559.6 L357.6,558.4 L360.8,557.3 L361.9,556.9 L364,556.1 L367.2,555 L370.4,553.8 L373.5,552.6 L376.6,551.5 L379.7,550.3 L382.8,549.2 L385.9,548.1 L389,546.9 L392.1,545.8 L395.1,544.6 L398.1,543.5 L401.1,542.3 L404.1,541.2 L407.1,540.1 L410.1,538.9 L413.1,537.8 L416,536.7 L416.7,536.4 L419,535.6 L421.9,534.4 L424.8,533.3 L427.7,532.2 L430.6,531.1 L433.5,529.9 L436.4,528.8 L439.2,527.7 L442.1,526.6 L444.9,525.5 L447.7,524.4 L450.6,523.3 L453.4,522.2 L456.2,521.1 L459,520 L461.7,518.9 L464.5,517.8 L467.3,516.7 L470,515.6 L472.8,514.6 L475.5,513.5 L478.2,512.4 L480.9,511.3 L483.6,510.3 L486.3,509.2 L489,508.1 L491.7,507.1 L494.4,506 L497,504.9 L499.7,503.9 L502.3,502.8 L505,501.8 L507.6,500.7 L510.2,499.7 L512.8,498.6 L515.4,497.6 L518,496.5 L520.6,495.5 L523.2,494.5 L525.7,493.4 L528.3,492.4 L530.9,491.4 L533.4,490.3 L535.9,489.3 L538.5,488.3 L541,487.3 L543.5,486.3 L546,485.3 L548.5,484.2 L551,483.2 L553.5,482.2 L556,481.2 L558.4,480.2 L560.9,479.2 L563.3,478.2 L565.8,477.2 L568.2,476.2 L570.7,475.3 L573.1,474.3 L575.5,473.3 L577.9,472.3 L580.3,471.3 L579.5,470.6 L577.3,468.9 L576,467.8 L573.6,468.8 L571.2,469.8 L568.8,470.7 L566.3,471.7 L563.9,472.7 L561.4,473.7 L559,474.7 L556.5,475.7 L554.1,476.6 L551.6,477.6 L549.1,478.6 L546.6,479.6 L544.1,480.6 L541.6,481.6 L539.1,482.6 L536.6,483.7 L534.1,484.7 L531.5,485.7 L529,486.7 L526.4,487.7 L523.9,488.7 L521.3,489.8 L518.7,490.8 L516.1,491.8 L513.6,492.8 L510.9,493.9 L508.3,494.9 L505.7,495.9 L503.1,497 L500.5,498 L497.8,499.1 L495.2,500.1 L492.5,501.2 L489.8,502.2 L487.2,503.3 L484.5,504.3 L481.8,505.4 L479.1,506.4 L476.3,507.5 L473.6,508.6 L470.9,509.6 L468.1,510.7 L465.4,511.8 L462.6,512.9 L459.8,513.9 L457.1,515 L454.3,516.1 L451.5,517.2 L448.7,518.3 L445.8,519.4 L443,520.5 L440.1,521.6 L437.8,522.5 L437.3,522.7 L434.4,523.8 L431.5,524.9 L428.7,526 L425.7,527.1 L422.8,528.2 L419.9,529.3 L417,530.4 L414,531.5 L411.1,532.6 L408.1,533.7 L405.1,534.8 L402.1,536 L399.1,537.1 L396,538.2 L393,539.3 L389.9,540.4 L386.9,541.6 L383.8,542.7 L380.7,543.8 L378.5,544.6 L377.6,545 L374.4,546.1 L371.3,547.2 L368.1,548.3 L364.9,549.5 L361.7,550.6 L358.5,551.7 L355.2,552.8 L351.9,554 L348.7,555.1 L346.7,555.8 L345.3,556.2 L342,557.3 L338.6,558.5 L335.2,559.6 L331.8,560.7 L328.3,561.8 L325.4,562.7 L324.8,562.9 L321.3,564 L317.7,565.1 L314.1,566.1 L310.4,567.2 L309.9,567.3 L306.6,568.2 L302.8,569.2 L298.9,570.3 L298.3,570.4 L294.9,571.2 L290.9,572.2 L288.7,572.7 L286.7,573.1 L287.2,573.4Z" fill="#6400df" stroke="#6400df" stroke-width="0.5" fill-rule="evenodd"/>
<path d="M276.8,567.3 L278.9,568.5 L281,569.7 L283,570.9 L285.1,572.2 L286.7,573.1 L288.7,572.7 L290.9,572.2 L294.9,571.2 L298.3,570.4 L298.9,570.3 L302.8,569.2 L306.6,568.2 L309.9,567.3 L310.4,567.2 L314.1,566.1 L317.7,565.1 L321.3,564 L324.8,562.9 L325.4,562.7 L328.3,561.8 L331.8,560.7 L335.2,559.6 L338.6,558.5 L342,557.3 L345.3,556.2 L346.7,555.8 L348.7,555.1 L351.9,554 L355.2,552.8 L358.5,551.7 L361.7,550.6 L364.9,549.5 L368.1,548.3 L371.3,547.2 L374.4,546.1 L377.6,545 L378.5,544.6 L380.7,543.8 L383.8,542.7 L386.9,541.6 L389.9,540.4 L393,539.3 L396,538.2 L399.1,537.1 L402.1,536 L405.1,534.8 L408.1,533.7 L411.1,532.6 L414,531.5 L417,530.4 L419.9,529.3 L422.8,528.2 L425.7,527.1 L428.7,526 L431.5,524.9 L434.4,523.8 L437.3,522.7 L437.8,522.5 L440.1,521.6 L443,520.5 L445.8,519.4 L448.7,518.3 L451.5,517.2 L454.3,516.1 L457.1,515 L459.8,513.9 L462.6,512.9 L465.4,511.8 L468.1,510.7 L470.9,509.6 L473.6,508.6 L476.3,507.5 L479.1,506.4 L481.8,505.4 L484.5,504.3 L487.2,503.3 L489.8,502.2 L492.5,501.2 L495.2,500.1 L497.8,499.1 L500.5,498 L503.1,497 L505.7,495.9 L508.3,494.9 L510.9,493.9 L513.6,492.8 L516.1,491.8 L518.7,490.8 L521.3,489.8 L523.9,488.7 L526.4,487.7 L529,486.7 L531.5,485.7 L534.1,484.7 L536.6,483.7 L539.1,482.6 L541.6,481.6 L544.1,480.6 L546.6,479.6 L549.1,478.6 L551.6,477.6 L554.1,476.6 L556.5,475.7 L559,474.7 L561.4,473.7 L563.9,472.7 L566.3,471.7 L568.8,470.7 L571.2,469.8 L573.6,468.8 L576,467.8 L575.2,467.2 L573.1,465.4 L571.8,464.3 L569.4,465.3 L566.9,466.2 L564.5,467.2 L562.1,468.2 L559.6,469.2 L557.2,470.1 L554.7,471.1 L552.2,472.1 L549.8,473.1 L547.3,474.1 L544.8,475.1 L542.3,476 L539.8,477 L537.3,478 L534.7,479 L532.2,480 L529.7,481 L527.1,482 L524.6,483 L522,484.1 L519.4,485.1 L516.9,486.1 L514.3,487.1 L511.7,488.1 L509.1,489.1 L506.4,490.2 L503.8,491.2 L501.2,492.2 L498.6,493.2 L495.9,494.3 L493.2,495.3 L490.6,496.3 L487.9,497.4 L485.2,498.4 L482.5,499.5 L479.8,500.5 L477.1,501.6 L474.4,502.6 L471.6,503.7 L468.9,504.7 L466.1,505.8 L463.4,506.8 L462.9,507 L460.6,507.9 L457.8,509 L455,510 L452.2,511.1 L449.4,512.2 L446.6,513.2 L443.7,514.3 L440.9,515.4 L438,516.5 L435.1,517.5 L432.2,518.6 L429.3,519.7 L426.4,520.8 L423.5,521.9 L420.6,523 L417.6,524 L414.7,525.1 L411.7,526.2 L408.7,527.3 L405.7,528.4 L402.7,529.5 L400.7,530.2 L399.7,530.6 L396.6,531.7 L393.5,532.8 L390.4,533.9 L387.3,535 L384.2,536.1 L381.1,537.2 L377.9,538.3 L374.8,539.4 L371.6,540.5 L368.4,541.6 L368.1,541.7 L365.1,542.7 L361.8,543.7 L358.5,544.8 L355.2,545.9 L351.9,547 L348.5,548.1 L346.5,548.7 L345.1,549.1 L341.6,550.2 L338.1,551.2 L334.5,552.3 L331,553.3 L330.9,553.3 L327.3,554.4 L323.7,555.4 L320,556.4 L317.8,557 L316.3,557.4 L312.5,558.4 L308.7,559.4 L306.3,560 L304.8,560.4 L300.9,561.4 L296.9,562.3 L296.2,562.5 L292.9,563.3 L288.8,564.2 L287.3,564.5 L284.6,565.1 L280.3,565.9 L279.2,566.2 L275.9,566.8 L276.8,567.3Z" fill="#6100e5" stroke="#6100e5" stroke-width="0.5" fill-rule="evenodd"/>
<path d="M260.4,558.9 L262.5,559.8 L264.5,560.8 L266.6,561.8 L268.6,562.8 L270.7,563.9 L272.7,565 L274.8,566.2 L275.9,566.8 L279.2,566.2 L280.3,565.9 L284.6,565.1 L287.3,564.5 L288.8,564.2 L292.9,563.3 L296.2,562.5 L296.9,562.3 L300.9,561.4 L304.8,560.4 L306.3,560 L308.7,559.4 L312.5,558.4 L316.3,557.4 L317.8,557 L320,556.4 L323.7,555.4 L327.3,554.4 L330.9,553.3 L331,553.3 L334.5,552.3 L338.1,551.2 L341.6,550.2 L345.1,549.1 L346.5,548.7 L348.5,548.1 L351.9,547 L355.2,545.9 L358.5,544.8 L361.8,543.7 L365.1,542.7 L368.1,541.7 L368.4,541.6 L371.6,540.5 L374.8,539.4 L377.9,538.3 L381.1,537.2 L384.2,536.1 L387.3,535 L390.4,533.9 L393.5,532.8 L396.6,531.7 L399.7,530.6 L400.7,530.2 L402.7,529.5 L405.7,528.4 L408.7,527.3 L411.7,526.2 L414.7,525.1 L417.6,524 L420.6,523 L423.5,521.9 L426.4,520.8 L429.3,519.7 L432.2,518.6 L435.1,517.5 L438,516.5 L440.9,515.4 L443.7,514.3 L446.6,513.2 L449.4,512.2 L452.2,511.1 L455,510 L457.8,509 L460.6,507.9 L462.9,507 L463.4,506.8 L466.1,505.8 L468.9,504.7 L471.6,503.7 L474.4,502.6 L477.1,501.6 L479.8,500.5 L482.5,499.5 L485.2,498.4 L487.9,497.4 L490.6,496.3 L493.2,495.3 L495.9,494.3 L498.6,493.2 L501.2,492.2 L503.8,491.2 L506.4,490.2 L509.1,489.1 L511.7,488.1 L514.3,487.1 L516.9,486.1 L519.4,485.1 L522,484.1 L524.6,483 L527.1,482 L529.7,481 L532.2,480 L534.7,479 L537.3,478 L539.8,477 L542.3,476 L544.8,475.1 L547.3,474.1 L549.8,473.1 L552.2,472.1 L554.7,471.1 L557.2,470.1 L559.6,469.2 L562.1,468.2 L564.5,467.2 L566.9,466.2 L569.4,465.3 L571.8,464.3 L571,463.7 L568.9,461.9 L567.4,460.8 L565,461.8 L562.6,462.7 L560.1,463.7 L557.7,464.6 L555.2,465.6 L552.7,466.6 L550.3,467.5 L547.8,468.5 L545.3,469.5 L542.8,470.5 L540.3,471.4 L537.8,472.4 L535.3,473.4 L532.7,474.4 L530.2,475.4 L527.6,476.4 L525.1,477.4 L522.5,478.4 L519.9,479.3 L517.3,480.3 L514.8,481.3 L512.2,482.3 L509.5,483.4 L506.9,484.4 L504.3,485.4 L501.7,486.4 L499,487.4 L497.5,488 L496.4,488.4 L493.7,489.4 L491,490.4 L488.3,491.5 L485.6,492.5 L482.9,493.5 L480.2,494.5 L477.5,495.6 L474.8,496.6 L472,497.6 L469.2,498.7 L466.5,499.7 L463.7,500.7 L460.9,501.8 L458.1,502.8 L455.3,503.9 L452.5,504.9 L449.6,505.9 L446.8,507 L443.9,508 L441,509.1 L438.2,510.2 L435.3,511.2 L432.3,512.3 L431.8,512.5 L429.4,513.3 L426.5,514.4 L423.5,515.4 L420.5,516.5 L417.5,517.5 L414.5,518.6 L411.5,519.6 L408.4,520.7 L405.4,521.8 L402.3,522.8 L399.2,523.9 L398.7,524 L396,524.9 L392.9,526 L389.7,527 L386.5,528.1 L383.3,529.1 L380.1,530.2 L376.8,531.2 L376.6,531.3 L373.5,532.2 L370.2,533.3 L366.9,534.3 L363.6,535.4 L360.2,536.4 L358.2,537 L356.8,537.4 L353.4,538.5 L349.9,539.5 L346.5,540.5 L343,541.6 L342.5,541.7 L339.5,542.6 L335.9,543.6 L332.3,544.6 L329,545.5 L328.7,545.6 L325,546.6 L321.3,547.6 L317.5,548.5 L317.3,548.6 L313.7,549.5 L309.9,550.5 L306.9,551.2 L306,551.4 L302,552.3 L297.9,553.2 L297.8,553.2 L293.8,554.1 L289.7,554.9 L289.6,554.9 L285.2,555.8 L282.5,556.2 L280.7,556.5 L276.1,557.3 L276,557.3 L271.2,557.9 L270.2,558 L266,558.5 L265.1,558.5 L260.4,558.9 L260.4,558.9 L260.4,558.9Z" fill="#5d00eb" stroke="#5d00eb" stroke-width="0.5" fill-rule="evenodd"/>
<path d="M212.7,539.8 L214.6,540.6 L216.6,541.3 L218.5,542 L220.5,542.8 L222.5,543.5 L224.4,544.3 L226.4,545 L228.4,545.8 L230.4,546.5 L232.3,547.3 L234.3,548.1 L236.3,548.8 L238.3,549.6 L240.3,550.4 L242.3,551.2 L244.3,552 L246.3,552.8 L248.3,553.7 L250.3,554.5 L252.3,555.3 L254.4,556.2 L256.4,557.1 L258.4,558 L260.4,558.9 L260.4,558.9 L265.1,558.5 L266,558.5 L270.2,558 L271.2,557.9 L276,557.3 L276.1,557.3 L280.7,556.5 L282.5,556.2 L285.2,555.8 L289.6,554.9 L289.7,554.9 L293.8,554.1 L297.8,553.2 L297.9,553.2 L302,552.3 L306,551.4 L306.9,551.2 L309.9,550.5 L313.7,549.5 L317.3,548.6 L317.5,548.5 L321.3,547.6 L325,546.6 L328.7,545.6 L329,545.5 L332.3,544.6 L335.9,543.6 L339.5,542.6 L342.5,541.7 L343,541.6 L346.5,540.5 L349.9,539.5 L353.4,538.5 L356.8,537.4 L358.2,537 L360.2,536.4 L363.6,535.4 L366.9,534.3 L370.2,533.3 L373.5,532.2 L376.6,531.3 L376.8,531.2 L380.1,530.2 L383.3,529.1 L386.5,528.1 L389.7,527 L392.9,526 L396,524.9 L398.7,524 L399.2,523.9 L402.3,522.8 L405.4,521.8 L408.4,520.7 L411.5,519.6 L414.5,518.6 L417.5,517.5 L420.5,516.5 L423.5,515.4 L426.5,514.4 L429.4,513.3 L431.8,512.5 L432.3,512.3 L435.3,511.2 L438.2,510.2 L441,509.1 L443.9,508 L446.8,507 L449.6,505.9 L452.5,504.9 L455.3,503.9 L458.1,502.8 L460.9,501.8 L463.7,500.7 L466.5,499.7 L469.2,498.7 L472,497.6 L474.8,496.6 L477.5,495.6 L480.2,494.5 L482.9,493.5 L485.6,492.5 L488.3,491.5 L491,490.4 L493.7,489.4 L496.4,488.4 L497.5,488 L499,487.4 L501.7,486.4 L504.3,485.4 L506.9,484.4 L509.5,483.4 L512.2,482.3 L514.8,481.3 L517.3,480.3 L519.9,479.3 L522.5,478.4 L525.1,477.4 L527.6,476.4 L530.2,475.4 L532.7,474.4 L535.3,473.4 L537.8,472.4 L540.3,471.4 L542.8,470.5 L545.3,469.5 L547.8,468.5 L550.3,467.5 L552.7,466.6 L555.2,465.6 L557.7,464.6 L560.1,463.7 L562.6,462.7 L565,461.8 L567.4,460.8 L566.8,460.3 L564.6,458.6 L562.7,457.2 L560.3,458.1 L557.8,459.1 L555.3,460 L552.9,461 L550.4,461.9 L548.9,462.5 L547.9,462.9 L545.4,463.8 L542.9,464.8 L540.3,465.8 L537.8,466.7 L535.3,467.7 L532.7,468.7 L530.2,469.6 L527.6,470.6 L525,471.6 L522.4,472.5 L519.9,473.5 L517.3,474.5 L514.6,475.5 L512,476.4 L509.4,477.4 L506.7,478.4 L504.1,479.4 L501.4,480.4 L498.8,481.4 L496.1,482.4 L493.4,483.4 L490.7,484.4 L488,485.4 L485.2,486.4 L482.5,487.4 L479.7,488.4 L477,489.4 L476,489.7 L474.2,490.4 L471.4,491.4 L468.6,492.4 L465.7,493.4 L462.9,494.4 L460.1,495.4 L457.2,496.4 L454.3,497.4 L451.4,498.4 L448.5,499.4 L445.6,500.4 L442.7,501.4 L441,502 L439.7,502.4 L436.8,503.4 L433.8,504.5 L430.8,505.5 L427.8,506.5 L424.8,507.5 L421.8,508.5 L418.7,509.5 L415.7,510.6 L414.1,511.1 L412.6,511.6 L409.5,512.6 L406.4,513.6 L403.3,514.6 L400.1,515.6 L397,516.7 L393.8,517.7 L392.1,518.3 L390.6,518.7 L387.4,519.7 L384.2,520.7 L380.9,521.7 L377.6,522.8 L374.4,523.8 L373.6,524 L371,524.8 L367.7,525.8 L364.3,526.8 L360.9,527.8 L357.8,528.7 L357.5,528.8 L354,529.8 L350.5,530.8 L347,531.7 L344.3,532.5 L343.5,532.7 L339.9,533.7 L336.2,534.6 L332.6,535.6 L332.5,535.6 L328.8,536.5 L325,537.5 L322.3,538.1 L321.2,538.4 L317.2,539.3 L313.4,540.1 L313.3,540.1 L309.2,541 L305.5,541.7 L305,541.8 L300.6,542.6 L298.6,542.9 L296.1,543.3 L292.5,543.8 L291.4,543.9 L287.2,544.4 L286.3,544.5 L282.5,544.7 L280.7,544.8 L278,545 L274.9,545.1 L273.8,545.2 L269.7,545.3 L268.7,545.3 L265.8,545.3 L262.1,545.3 L262,545.3 L258.5,545.2 L255.1,545.1 L254.7,545.1 L251.8,544.9 L248.6,544.7 L246.4,544.5 L245.5,544.4 L242.5,544.1 L239.5,543.8 L236.7,543.5 L236.6,543.5 L234,543.1 L231.3,542.7 L228.6,542.3 L225.9,541.9 L224.7,541.7 L223.3,541.4 L220.7,541 L218.1,540.6 L215.5,540.1 L213,539.7 L211.5,539.4 L212.7,539.8Z" fill="#5600f2" stroke="#5600f2" stroke-width="0.5" fill-rule="evenodd"/>
<path d="M159.2,521 L161.1,521.6 L163,522.3 L164.8,522.9 L166.7,523.6 L168.6,524.2 L170.5,524.9 L172.4,525.5 L174.2,526.2 L176.1,526.8 L178,527.5 L179.9,528.1 L181.8,528.8 L183.7,529.4 L185.6,530.1 L187.5,530.7 L189.5,531.4 L191.4,532.1 L193.3,532.8 L195.2,533.4 L197.1,534.1 L199.1,534.8 L201,535.5 L202.9,536.2 L204.9,536.9 L206.8,537.7 L208.8,538.4 L210.7,539.1 L211.5,539.4 L213,539.7 L215.5,540.1 L218.1,540.6 L220.7,541 L223.3,541.4 L224.7,541.7 L225.9,541.9 L228.6,542.3 L231.3,542.7 L234,543.1 L236.6,543.5 L236.7,543.5 L239.5,543.8 L242.5,544.1 L245.5,544.4 L246.4,544.5 L248.6,544.7 L251.8,544.9 L254.7,545.1 L255.1,545.1 L258.5,545.2 L262,545.3 L262.1,545.3 L265.8,545.3 L268.7,545.3 L269.7,545.3 L273.8,545.2 L274.9,545.1 L278,545 L280.7,544.8 L282.5,544.7 L286.3,544.5 L287.2,544.4 L291.4,543.9 L292.5,543.8 L296.1,543.3 L298.6,542.9 L300.6,542.6 L305,541.8 L305.5,541.7 L309.2,541 L313.3,540.1 L313.4,540.1 L317.2,539.3 L321.2,538.4 L322.3,538.1 L325,537.5 L328.8,536.5 L332.5,535.6 L332.6,535.6 L336.2,534.6 L339.9,533.7 L343.5,532.7 L344.3,532.5 L347,531.7 L350.5,530.8 L354,529.8 L357.5,528.8 L357.8,528.7 L360.9,527.8 L364.3,526.8 L367.7,525.8 L371,524.8 L373.6,524 L374.4,523.8 L377.6,522.8 L380.9,521.7 L384.2,520.7 L387.4,519.7 L390.6,518.7 L392.1,518.3 L393.8,517.7 L397,516.7 L400.1,515.6 L403.3,514.6 L406.4,513.6 L409.5,512.6 L412.6,511.6 L414.1,511.1 L415.7,510.6 L418.7,509.5 L421.8,508.5 L424.8,507.5 L427.8,506.5 L430.8,505.5 L433.8,504.5 L436.8,503.4 L439.7,502.4 L441,502 L442.7,501.4 L445.6,500.4 L448.5,499.4 L451.4,498.4 L454.3,497.4 L457.2,496.4 L460.1,495.4 L462.9,494.4 L465.7,493.4 L468.6,492.4 L471.4,491.4 L474.2,490.4 L476,489.7 L477,489.4 L479.7,488.4 L482.5,487.4 L485.2,486.4 L488,485.4 L490.7,484.4 L493.4,483.4 L496.1,482.4 L498.8,481.4 L501.4,480.4 L504.1,479.4 L506.7,478.4 L509.4,477.4 L512,476.4 L514.6,475.5 L517.3,474.5 L519.9,473.5 L522.4,472.5 L525,471.6 L527.6,470.6 L530.2,469.6 L532.7,468.7 L535.3,467.7 L537.8,466.7 L540.3,465.8 L542.9,464.8 L545.4,463.8 L547.9,462.9 L548.9,462.5 L550.4,461.9 L552.9,461 L555.3,460 L557.8,459.1 L560.3,458.1 L562.7,457.2 L562.5,457.1 L560.4,455.6 L558.3,454.2 L556.9,453.3 L554.4,454.2 L551.9,455.1 L549.4,456.1 L546.8,457 L544.3,457.9 L541.7,458.9 L539.2,459.8 L537.6,460.4 L536.6,460.7 L534,461.7 L531.4,462.6 L528.8,463.5 L526.2,464.5 L523.6,465.4 L521,466.4 L518.3,467.3 L515.7,468.3 L513,469.2 L510.4,470.2 L507.7,471.1 L505,472.1 L502.3,473.1 L499.6,474 L496.9,475 L494.2,475.9 L493.4,476.2 L491.4,476.9 L488.7,477.9 L485.9,478.8 L483.2,479.8 L480.4,480.8 L477.6,481.7 L474.8,482.7 L472,483.7 L469.1,484.7 L466.3,485.6 L463.5,486.6 L460.6,487.6 L460.2,487.7 L457.7,488.6 L454.8,489.6 L451.9,490.5 L449,491.5 L446.1,492.5 L443.1,493.5 L440.2,494.5 L437.2,495.5 L434.2,496.4 L433.8,496.6 L431.2,497.4 L428.2,498.4 L425.1,499.4 L422.1,500.4 L419,501.4 L415.9,502.4 L412.9,503.3 L412.2,503.5 L409.7,504.3 L406.6,505.3 L403.4,506.3 L400.2,507.3 L397,508.2 L394.1,509.1 L393.8,509.2 L390.5,510.2 L387.3,511.2 L384,512.1 L380.6,513.1 L378.8,513.6 L377.3,514.1 L373.9,515 L370.5,516 L367,516.9 L365.7,517.3 L363.5,517.8 L360,518.8 L356.4,519.7 L354.4,520.2 L352.7,520.6 L349,521.5 L345.3,522.4 L344.7,522.5 L341.4,523.2 L337.5,524 L336.4,524.3 L333.4,524.8 L329.2,525.6 L329.2,525.6 L324.7,526.3 L323.1,526.5 L320.1,526.9 L317.5,527.2 L315.3,527.5 L312.2,527.8 L310.4,528 L307.2,528.3 L305.2,528.4 L302.5,528.7 L299.8,528.8 L298,529 L294.2,529.1 L293.7,529.2 L289.6,529.3 L288.2,529.3 L285.6,529.4 L281.9,529.4 L281.8,529.4 L278.3,529.3 L274.8,529.2 L274.7,529.2 L271.5,529.1 L268.3,528.9 L266.7,528.7 L265.2,528.6 L262.2,528.3 L259.2,528.1 L257.7,527.9 L256.3,527.8 L253.3,527.5 L250.4,527.2 L248.1,526.9 L247.6,526.8 L244.8,526.5 L242,526.2 L239.2,525.8 L237.6,525.6 L236.5,525.4 L233.9,525 L231.3,524.6 L228.7,524.2 L226.2,523.7 L224.7,523.5 L223.8,523.3 L221.5,522.8 L219.2,522.3 L217,521.7 L214.8,521.1 L212.8,520.6 L210.8,519.9 L208.9,519.3 L207,518.6 L205.1,518 L203.1,517.4 L201.2,516.7 L199.3,516.1 L197.4,515.4 L195.5,514.8 L193.7,514.2 L191.8,513.5 L189.9,512.9 L188,512.2 L186.1,511.6 L184.2,511 L182.4,510.3 L180.5,509.7 L179.1,510.4 L176,511.7 L172.9,513.1 L169.8,514.6 L166.7,516 L163.6,517.4 L160.5,518.9 L157.4,520.3 L159.2,521Z" fill="#4f00f8" stroke="#4f00f8" stroke-width="0.5" fill-rule="evenodd"/>
<path d="M182.4,510.3 L184.2,511 L186.1,511.6 L188,512.2 L189.9,512.9 L191.8,513.5 L193.7,514.2 L195.5,514.8 L197.4,515.4 L199.3,516.1 L201.2,516.7 L203.1,517.4 L205.1,518 L207,518.6 L208.9,519.3 L210.8,519.9 L212.8,520.6 L214.8,521.1 L217,521.7 L219.2,522.3 L221.5,522.8 L223.8,523.3 L224.7,523.5 L226.2,523.7 L228.7,524.2 L231.3,524.6 L233.9,525 L236.5,525.4 L237.6,525.6 L239.2,525.8 L242,526.2 L244.8,526.5 L247.6,526.8 L248.1,526.9 L250.4,527.2 L253.3,527.5 L256.3,527.8 L257.7,527.9 L259.2,528.1 L262.2,528.3 L265.2,528.6 L266.7,528.7 L268.3,528.9 L271.5,529.1 L274.7,529.2 L274.8,529.2 L278.3,529.3 L281.8,529.4 L281.9,529.4 L285.6,529.4 L288.2,529.3 L289.6,529.3 L293.7,529.2 L294.2,529.1 L298,529 L299.8,528.8 L302.5,528.7 L305.2,528.4 L307.2,528.3 L310.4,528 L312.2,527.8 L315.3,527.5 L317.5,527.2 L320.1,526.9 L323.1,526.5 L324.7,526.3 L329.2,525.6 L329.2,525.6 L333.4,524.8 L336.4,524.3 L337.5,524 L341.4,523.2 L344.7,522.5 L345.3,522.4 L349,521.5 L352.7,520.6 L354.4,520.2 L356.4,519.7 L360,518.8 L363.5,517.8 L365.7,517.3 L367,516.9 L370.5,516 L373.9,515 L377.3,514.1 L378.8,513.6 L380.6,513.1 L384,512.1 L387.3,511.2 L390.5,510.2 L393.8,509.2 L394.1,509.1 L397,508.2 L400.2,507.3 L403.4,506.3 L406.6,505.3 L409.7,504.3 L412.2,503.5 L412.9,503.3 L415.9,502.4 L419,501.4 L422.1,500.4 L425.1,499.4 L428.2,498.4 L431.2,497.4 L433.8,496.6 L434.2,496.4 L437.2,495.5 L440.2,494.5 L443.1,493.5 L446.1,492.5 L449,491.5 L451.9,490.5 L454.8,489.6 L457.7,488.6 L460.2,487.7 L460.6,487.6 L463.5,486.6 L466.3,485.6 L469.1,484.7 L472,483.7 L474.8,482.7 L477.6,481.7 L480.4,480.8 L483.2,479.8 L485.9,478.8 L488.7,477.9 L491.4,476.9 L493.4,476.2 L494.2,475.9 L496.9,475 L499.6,474 L502.3,473.1 L505,472.1 L507.7,471.1 L510.4,470.2 L513,469.2 L515.7,468.3 L518.3,467.3 L521,466.4 L523.6,465.4 L526.2,464.5 L528.8,463.5 L531.4,462.6 L534,461.7 L536.6,460.7 L537.6,460.4 L539.2,459.8 L541.7,458.9 L544.3,457.9 L546.8,457 L549.4,456.1 L551.9,455.1 L554.4,454.2 L556.9,453.3 L556.2,452.9 L554.1,451.6 L552,450.4 L549.9,449.2 L549.5,449 L547,449.9 L544.4,450.8 L541.9,451.7 L539.3,452.6 L536.7,453.5 L534.1,454.4 L531.5,455.4 L528.9,456.3 L526.3,457.2 L523.7,458.1 L521,459 L518.4,460 L516.8,460.5 L515.7,460.9 L513.1,461.8 L510.4,462.7 L507.7,463.7 L505,464.6 L502.3,465.5 L499.6,466.5 L496.8,467.4 L494.1,468.3 L491.3,469.3 L488.6,470.2 L485.8,471.2 L485.2,471.4 L483,472.1 L480.2,473 L477.4,474 L474.5,474.9 L471.7,475.9 L468.8,476.8 L466,477.8 L463.1,478.7 L460.2,479.7 L460,479.7 L457.3,480.6 L454.3,481.5 L451.4,482.5 L448.4,483.4 L445.4,484.4 L442.4,485.3 L439.4,486.3 L439.4,486.3 L436.4,487.2 L433.3,488.1 L430.2,489.1 L427.1,490 L424,491 L422.3,491.5 L420.9,491.9 L417.7,492.8 L414.5,493.7 L411.2,494.7 L408,495.6 L407.9,495.6 L404.7,496.5 L401.3,497.4 L397.9,498.3 L395.8,498.8 L394.5,499.2 L391,500 L387.5,500.9 L385.6,501.3 L383.9,501.7 L380.1,502.5 L377.1,503.2 L376.3,503.3 L372.4,504.1 L369.9,504.6 L368.4,504.8 L364.3,505.5 L363.1,505.7 L360.1,506.2 L356.8,506.7 L355.8,506.9 L351.4,507.5 L350.8,507.6 L346.9,508.1 L345.2,508.3 L342.3,508.7 L339.9,508.9 L337.5,509.2 L334.9,509.4 L332.5,509.6 L330.2,509.8 L327.3,510 L325.7,510.1 L321.8,510.3 L321.4,510.4 L317.3,510.5 L316,510.5 L313.4,510.6 L309.8,510.6 L309.7,510.6 L306.1,510.5 L302.9,510.5 L302.7,510.4 L299.3,510.3 L296,510.2 L295.6,510.2 L292.7,510 L289.5,509.9 L288.1,509.8 L286.2,509.7 L283.1,509.5 L280.2,509.3 L279.9,509.3 L276.9,509.1 L273.9,508.9 L271.6,508.6 L270.9,508.6 L268.1,508.3 L265.3,508 L262.6,507.6 L261.5,507.5 L260,507.2 L257.4,506.8 L255,506.4 L252.6,505.9 L250.4,505.4 L248.3,504.8 L246.2,504.2 L244.3,503.6 L242.4,503 L240.5,502.4 L238.5,501.7 L236.6,501.1 L234.7,500.5 L232.8,499.9 L230.9,499.2 L229,498.6 L227.1,498 L225.2,497.4 L223.3,496.8 L221.4,496.1 L219.5,495.5 L217.6,494.9 L215.7,494.3 L215.3,494.5 L212.3,495.8 L209.3,497.1 L206.3,498.3 L203.3,499.6 L200.3,500.9 L197.3,502.3 L194.3,503.6 L191.3,504.9 L188.2,506.3 L185.2,507.6 L182.1,509 L180.5,509.7 L182.4,510.3Z" fill="#4000f8" stroke="#4000f8" stroke-width="0.5" fill-rule="evenodd"/>
<path d="M217.6,494.9 L219.5,495.5 L221.4,496.1 L223.3,496.8 L225.2,497.4 L227.1,498 L229,498.6 L230.9,499.2 L232.8,499.9 L234.7,500.5 L236.6,501.1 L238.5,501.7 L240.5,502.4 L242.4,503 L244.3,503.6 L246.2,504.2 L248.3,504.8 L250.4,505.4 L252.6,505.9 L255,506.4 L257.4,506.8 L260,507.2 L261.5,507.5 L262.6,507.6 L265.3,508 L268.1,508.3 L270.9,508.6 L271.6,508.6 L273.9,508.9 L276.9,509.1 L279.9,509.3 L280.2,509.3 L283.1,509.5 L286.2,509.7 L288.1,509.8 L289.5,509.9 L292.7,510 L295.6,510.2 L296,510.2 L299.3,510.3 L302.7,510.4 L302.9,510.5 L306.1,510.5 L309.7,510.6 L309.8,510.6 L313.4,510.6 L316,510.5 L317.3,510.5 L321.4,510.4 L321.8,510.3 L325.7,510.1 L327.3,510 L330.2,509.8 L332.5,509.6 L334.9,509.4 L337.5,509.2 L339.9,508.9 L342.3,508.7 L345.2,508.3 L346.9,508.1 L350.8,507.6 L351.4,507.5 L355.8,506.9 L356.8,506.7 L360.1,506.2 L363.1,505.7 L364.3,505.5 L368.4,504.8 L369.9,504.6 L372.4,504.1 L376.3,503.3 L377.1,503.2 L380.1,502.5 L383.9,501.7 L385.6,501.3 L387.5,500.9 L391,500 L394.5,499.2 L395.8,498.8 L397.9,498.3 L401.3,497.4 L404.7,496.5 L407.9,495.6 L408,495.6 L411.2,494.7 L414.5,493.7 L417.7,492.8 L420.9,491.9 L422.3,491.5 L424,491 L427.1,490 L430.2,489.1 L433.3,488.1 L436.4,487.2 L439.4,486.3 L439.4,486.3 L442.4,485.3 L445.4,484.4 L448.4,483.4 L451.4,482.5 L454.3,481.5 L457.3,480.6 L460,479.7 L460.2,479.7 L463.1,478.7 L466,477.8 L468.8,476.8 L471.7,475.9 L474.5,474.9 L477.4,474 L480.2,473 L483,472.1 L485.2,471.4 L485.8,471.2 L488.6,470.2 L491.3,469.3 L494.1,468.3 L496.8,467.4 L499.6,466.5 L502.3,465.5 L505,464.6 L507.7,463.7 L510.4,462.7 L513.1,461.8 L515.7,460.9 L516.8,460.5 L518.4,460 L521,459 L523.7,458.1 L526.3,457.2 L528.9,456.3 L531.5,455.4 L534.1,454.4 L536.7,453.5 L539.3,452.6 L541.9,451.7 L544.4,450.8 L547,449.9 L549.5,449 L547.8,448 L545.7,446.8 L543.6,445.7 L541.5,444.6 L541.1,444.4 L538.5,445.3 L535.9,446.1 L533.2,447 L530.6,447.9 L528,448.8 L525.3,449.7 L522.7,450.6 L520,451.5 L518.7,451.9 L517.3,452.4 L514.6,453.3 L511.9,454.2 L509.1,455.1 L506.4,455.9 L503.6,456.8 L500.9,457.7 L498.1,458.6 L495.4,459.5 L495.3,459.5 L492.5,460.4 L489.6,461.3 L486.8,462.2 L483.9,463.1 L481,464 L478.1,464.9 L476.5,465.4 L475.2,465.8 L472.2,466.7 L469.2,467.5 L466.2,468.4 L463.2,469.3 L461,469.9 L460.2,470.2 L457.1,471 L453.9,471.9 L450.8,472.7 L448.3,473.4 L447.6,473.6 L444.3,474.4 L441,475.2 L438.1,476 L437.6,476.1 L434.1,476.8 L430.6,477.6 L429.2,478 L427.1,478.4 L423.5,479.2 L421,479.7 L419.9,479.9 L416.2,480.7 L413.4,481.2 L412.5,481.4 L408.7,482.1 L406.2,482.6 L404.8,482.8 L400.9,483.5 L399.6,483.7 L396.9,484.1 L393.3,484.7 L392.8,484.8 L388.5,485.4 L387.5,485.5 L384.2,486 L381.9,486.3 L379.8,486.5 L376.7,486.9 L375.2,487 L371.8,487.3 L370.4,487.5 L367.1,487.7 L365.4,487.8 L362.7,488 L360.2,488.2 L358.5,488.2 L354.6,488.4 L354.5,488.4 L350.7,488.4 L348.7,488.5 L346.9,488.5 L343.1,488.6 L342.7,488.6 L339.4,488.6 L336.6,488.6 L335.7,488.6 L332.1,488.6 L330.3,488.6 L328.6,488.6 L325.1,488.5 L323.7,488.5 L321.7,488.4 L318.4,488.3 L316.6,488.3 L315.2,488.2 L312.1,488 L309.1,487.8 L308.7,487.7 L306.2,487.5 L303.4,487.2 L300.8,486.9 L298.4,486.5 L298.2,486.5 L295.9,486 L293.6,485.5 L291.5,485 L289.6,484.4 L287.6,483.8 L285.7,483.2 L283.8,482.5 L281.8,481.9 L279.9,481.3 L278,480.7 L276.1,480.1 L274.2,479.5 L272.2,478.9 L270.3,478.4 L268.4,477.8 L266.5,477.2 L264.6,476.6 L262.7,476 L260.8,475.4 L258.9,476.2 L256.1,477.4 L253.2,478.5 L250.3,479.7 L247.5,480.9 L244.6,482.1 L241.7,483.3 L238.8,484.6 L235.9,485.8 L233,487 L230,488.2 L227.1,489.5 L224.2,490.7 L221.2,492 L218.2,493.2 L215.7,494.3 L217.6,494.9Z" fill="#3200f8" stroke="#3200f8" stroke-width="0.5" fill-rule="evenodd"/>
<path d="M262.7,476 L264.6,476.6 L266.5,477.2 L268.4,477.8 L270.3,478.4 L272.2,478.9 L274.2,479.5 L276.1,480.1 L278,480.7 L279.9,481.3 L281.8,481.9 L283.8,482.5 L285.7,483.2 L287.6,483.8 L289.6,484.4 L291.5,485 L293.6,485.5 L295.9,486 L298.2,486.5 L298.4,486.5 L300.8,486.9 L303.4,487.2 L306.2,487.5 L308.7,487.7 L309.1,487.8 L312.1,488 L315.2,488.2 L316.6,488.3 L318.4,488.3 L321.7,488.4 L323.7,488.5 L325.1,488.5 L328.6,488.6 L330.3,488.6 L332.1,488.6 L335.7,488.6 L336.6,488.6 L339.4,488.6 L342.7,488.6 L343.1,488.6 L346.9,488.5 L348.7,488.5 L350.7,488.4 L354.5,488.4 L354.6,488.4 L358.5,488.2 L360.2,488.2 L362.7,488 L365.4,487.8 L367.1,487.7 L370.4,487.5 L371.8,487.3 L375.2,487 L376.7,486.9 L379.8,486.5 L381.9,486.3 L384.2,486 L387.5,485.5 L388.5,485.4 L392.8,484.8 L393.3,484.7 L396.9,484.1 L399.6,483.7 L400.9,483.5 L404.8,482.8 L406.2,482.6 L408.7,482.1 L412.5,481.4 L413.4,481.2 L416.2,480.7 L419.9,479.9 L421,479.7 L423.5,479.2 L427.1,478.4 L429.2,478 L430.6,477.6 L434.1,476.8 L437.6,476.1 L438.1,476 L441,475.2 L444.3,474.4 L447.6,473.6 L448.3,473.4 L450.8,472.7 L453.9,471.9 L457.1,471 L460.2,470.2 L461,469.9 L463.2,469.3 L466.2,468.4 L469.2,467.5 L472.2,466.7 L475.2,465.8 L476.5,465.4 L478.1,464.9 L481,464 L483.9,463.1 L486.8,462.2 L489.6,461.3 L492.5,460.4 L495.3,459.5 L495.4,459.5 L498.1,458.6 L500.9,457.7 L503.6,456.8 L506.4,455.9 L509.1,455.1 L511.9,454.2 L514.6,453.3 L517.3,452.4 L518.7,451.9 L520,451.5 L522.7,450.6 L525.3,449.7 L528,448.8 L530.6,447.9 L533.2,447 L535.9,446.1 L538.5,445.3 L541.1,444.4 L539.5,443.5 L537.4,442.5 L535.3,441.5 L533.2,440.5 L531.1,439.6 L529.4,438.9 L526.7,439.7 L526.6,439.7 L523.7,440.5 L520.8,441.3 L517.9,442.2 L515,443 L513.9,443.3 L512,443.7 L509,444.5 L505.9,445.3 L502.9,446.1 L502.9,446.1 L499.8,446.9 L496.6,447.6 L493.5,448.4 L492.8,448.6 L490.3,449.2 L487.1,449.9 L483.9,450.7 L483.5,450.7 L480.6,451.4 L477.2,452.1 L475,452.7 L473.9,452.9 L470.5,453.6 L467,454.3 L467,454.3 L463.5,455 L460,455.7 L459.6,455.8 L456.4,456.4 L452.7,457 L452.6,457 L448.9,457.7 L446.2,458.1 L445.1,458.3 L441.2,458.9 L440.1,459.1 L437.2,459.5 L434.4,459.9 L433.1,460 L429.1,460.6 L428.9,460.6 L424.5,461.1 L424,461.1 L420,461.5 L419.3,461.6 L415.3,461.9 L414.8,461.9 L410.4,462.2 L410.4,462.2 L406,462.5 L405.5,462.5 L401.8,462.8 L400.5,462.9 L397.5,463 L395.4,463.1 L393.4,463.2 L390.2,463.4 L389.3,463.4 L385.3,463.6 L384.8,463.6 L381.4,463.7 L379.3,463.8 L377.7,463.8 L374,463.8 L373.4,463.8 L370.5,463.8 L367.1,463.7 L367.1,463.7 L363.9,463.6 L360.8,463.5 L359.7,463.4 L357.9,463.2 L355.2,462.9 L352.6,462.6 L350.2,462.2 L348,461.7 L346.5,461.3 L346,461.1 L344,460.5 L342.1,460 L340.1,459.4 L338.2,458.8 L336.3,458.2 L334.3,457.7 L332.4,457.1 L330.5,456.5 L328.5,455.9 L326.6,455.4 L324.7,454.8 L322.8,454.2 L320.9,453.7 L319,453.1 L317,452.5 L314.4,453.6 L311.7,454.7 L309,455.8 L306.2,456.9 L303.5,458 L300.8,459.1 L298,460.2 L295.3,461.3 L292.5,462.4 L289.8,463.5 L287,464.7 L284.2,465.8 L281.5,466.9 L278.7,468.1 L275.9,469.2 L273.1,470.4 L270.2,471.5 L267.4,472.7 L264.6,473.8 L261.8,475 L260.8,475.4 L262.7,476Z" fill="#2500f8" stroke="#2500f8" stroke-width="0.5" fill-rule="evenodd"/>
<path d="M319,453.1 L320.9,453.7 L322.8,454.2 L324.7,454.8 L326.6,455.4 L328.5,455.9 L330.5,456.5 L332.4,457.1 L334.3,457.7 L336.3,458.2 L338.2,458.8 L340.1,459.4 L342.1,460 L344,460.5 L346,461.1 L346.5,461.3 L348,461.7 L350.2,462.2 L352.6,462.6 L355.2,462.9 L357.9,463.2 L359.7,463.4 L360.8,463.5 L363.9,463.6 L367.1,463.7 L367.1,463.7 L370.5,463.8 L373.4,463.8 L374,463.8 L377.7,463.8 L379.3,463.8 L381.4,463.7 L384.8,463.6 L385.3,463.6 L389.3,463.4 L390.2,463.4 L393.4,463.2 L395.4,463.1 L397.5,463 L400.5,462.9 L401.8,462.8 L405.5,462.5 L406,462.5 L410.4,462.2 L410.4,462.2 L414.8,461.9 L415.3,461.9 L419.3,461.6 L420,461.5 L424,461.1 L424.5,461.1 L428.9,460.6 L429.1,460.6 L433.1,460 L434.4,459.9 L437.2,459.5 L440.1,459.1 L441.2,458.9 L445.1,458.3 L446.2,458.1 L448.9,457.7 L452.6,457 L452.7,457 L456.4,456.4 L459.6,455.8 L460,455.7 L463.5,455 L467,454.3 L467,454.3 L470.5,453.6 L473.9,452.9 L475,452.7 L477.2,452.1 L480.6,451.4 L483.5,450.7 L483.9,450.7 L487.1,449.9 L490.3,449.2 L492.8,448.6 L493.5,448.4 L496.6,447.6 L499.8,446.9 L502.9,446.1 L502.9,446.1 L505.9,445.3 L509,444.5 L512,443.7 L513.9,443.3 L515,443 L517.9,442.2 L520.8,441.3 L523.7,440.5 L526.6,439.7 L526.7,439.7 L529.4,438.9 L529,438.8 L527,438 L524.9,437.2 L522.8,436.4 L520.8,435.7 L518.7,434.9 L516.6,434.2 L514.6,433.5 L512.5,432.8 L510.5,432.1 L508.4,431.4 L506.4,430.7 L504.3,430.1 L502.3,429.4 L501.3,429.1 L498.3,429.6 L497.6,429.6 L493.7,430.2 L492.8,430.3 L489.7,430.6 L487.7,430.9 L485.6,431.1 L482.7,431.5 L481.6,431.6 L477.7,432 L477.4,432 L473.2,432.5 L472.8,432.5 L469,432.9 L468,433 L464.7,433.3 L463.3,433.5 L460.4,433.7 L458.7,433.9 L455.9,434.1 L454.2,434.3 L451.3,434.5 L449.9,434.6 L446.6,434.8 L445.7,434.8 L441.7,435 L441.7,435 L437.9,435.2 L436.4,435.2 L434.2,435.2 L430.7,435.2 L430.7,435.2 L427.5,435.2 L424.4,435 L423.9,435 L421.6,434.8 L419,434.5 L416.6,434 L414.5,433.5 L412.6,433 L410.6,432.4 L408.7,431.9 L406.7,431.4 L404.7,430.8 L402.8,430.3 L400.8,429.7 L398.9,429.2 L397,428.6 L395,428.1 L393.1,427.6 L391.1,427 L389.2,426.5 L387.3,426 L385.4,425.4 L384.7,425.7 L382.1,426.7 L379.6,427.7 L377.1,428.7 L374.6,429.7 L372,430.7 L369.5,431.7 L366.9,432.7 L364.3,433.7 L361.8,434.7 L359.2,435.7 L356.6,436.8 L354,437.8 L351.4,438.8 L348.8,439.8 L346.2,440.9 L343.6,441.9 L341,443 L338.4,444 L335.7,445.1 L333.1,446.1 L330.4,447.2 L327.8,448.2 L325.1,449.3 L322.4,450.4 L319.7,451.4 L317.1,452.5 L317,452.5 L319,453.1Z" fill="#1d00f8" stroke="#1d00f8" stroke-width="0.5" fill-rule="evenodd"/>
<path d="M387.3,426 L389.2,426.5 L391.1,427 L393.1,427.6 L395,428.1 L397,428.6 L398.9,429.2 L400.8,429.7 L402.8,430.3 L404.7,430.8 L406.7,431.4 L408.7,431.9 L410.6,432.4 L412.6,433 L414.5,433.5 L416.6,434 L419,434.5 L421.6,434.8 L423.9,435 L424.4,435 L427.5,435.2 L430.7,435.2 L430.7,435.2 L434.2,435.2 L436.4,435.2 L437.9,435.2 L441.7,435 L441.7,435 L445.7,434.8 L446.6,434.8 L449.9,434.6 L451.3,434.5 L454.2,434.3 L455.9,434.1 L458.7,433.9 L460.4,433.7 L463.3,433.5 L464.7,433.3 L468,433 L469,432.9 L472.8,432.5 L473.2,432.5 L477.4,432 L477.7,432 L481.6,431.6 L482.7,431.5 L485.6,431.1 L487.7,430.9 L489.7,430.6 L492.8,430.3 L493.7,430.2 L497.6,429.6 L498.3,429.6 L501.3,429.1 L500.3,428.8 L498.2,428.1 L496.2,427.5 L494.2,426.9 L492.1,426.2 L490.1,425.6 L488.1,425 L486.1,424.4 L484.1,423.8 L482,423.2 L480,422.6 L478,421.9 L476,421.4 L474,420.8 L472,420.2 L470,419.6 L468,419 L466.1,418.5 L464.1,417.9 L462.1,417.3 L460.1,416.8 L458.1,416.3 L456.2,415.7 L454.2,415.2 L452.2,414.7 L450.3,414.2 L448.3,413.6 L446.3,413.1 L444.4,412.6 L442.4,412.1 L440.5,411.5 L438.5,411 L436.6,410.5 L434.6,410 L432.7,409.5 L430.8,408.9 L428.8,408.4 L426.4,409.4 L424,410.3 L421.6,411.2 L419.2,412.2 L416.8,413.1 L414.3,414.1 L411.9,415 L409.4,416 L407,416.9 L404.5,417.9 L402.1,418.9 L399.6,419.8 L397.1,420.8 L394.6,421.8 L392.2,422.7 L389.7,423.7 L387.2,424.7 L385.4,425.4 L387.3,426Z" fill="#1400f8" stroke="#1400f8" stroke-width="0.5" fill-rule="evenodd"/>
</g>
<clipPath id="wc"><polygon points="401.6,646.4 406,630 410,612 413.6,595 414.7,577.7 417.5,536 419.8,494.4 422.6,452 425.3,409.5 428.2,376 430.5,360 432.8,350 434.6,341.7 437.1,334.8 440.6,329.7 445.7,323.7 451.7,316.8 456,312.1 461,305.4 466,299 471,293 476,287.3 481,281.9 486,276.7 491,271.7 496,266.8 501,262.1 506,257.5 511,253 516,248.5 521,244.1 526,239.8 531,235.5 536,231.3 541,227 546,222.8 551,218.6 556,214.4 561,210.3 566,206.1 571,202 576,197.9 581,193.9 586,189.8 591,185.8 596,181.9 601,178 606,174.2 611,170.4 616,166.7 621,163 626,159.4 631,156 636,152.6 641,149.2 646,146 651,142.9 656,139.8 661,136.8 666,134 671,131.1 676,128.4 681,125.7 686,123 691,120.3 696,117.7 701,115 706,112.3 711,109.6 716,106.7 721,103.7 726.5,100.3 722,104.8 717.5,108.8 714.3,113.5 711.6,122.1 709.6,135 708,151 706.4,159 704.8,178.3 702.3,207 699.7,237.3 697.2,275 694.7,313.3 692.4,351 690.1,389.2 687.5,425 684.8,462.1 682,490 680.5,505 679.5,512.8 677,518 673,520 657,527.3 624.9,541.8 592.7,557.8 560.6,573.9 528.5,590 496.4,606 464.2,620.5 432.1,633.3"/></clipPath>
<g clip-path="url(#wc)">
<polygon points="401.6,646.4 406,630 410,612 413.6,595 414.7,577.7 417.5,536 419.8,494.4 422.6,452 425.3,409.5 428.2,376 430.5,360 432.8,350 434.6,341.7 437.1,334.8 440.6,329.7 445.7,323.7 451.7,316.8 456,312.1 461,305.4 466,299 471,293 476,287.3 481,281.9 486,276.7 491,271.7 496,266.8 501,262.1 506,257.5 511,253 516,248.5 521,244.1 526,239.8 531,235.5 536,231.3 541,227 546,222.8 551,218.6 556,214.4 561,210.3 566,206.1 571,202 576,197.9 581,193.9 586,189.8 591,185.8 596,181.9 601,178 606,174.2 611,170.4 616,166.7 621,163 626,159.4 631,156 636,152.6 641,149.2 646,146 651,142.9 656,139.8 661,136.8 666,134 671,131.1 676,128.4 681,125.7 686,123 691,120.3 696,117.7 701,115 706,112.3 711,109.6 716,106.7 721,103.7 726.5,100.3 722,104.8 717.5,108.8 714.3,113.5 711.6,122.1 709.6,135 708,151 706.4,159 704.8,178.3 702.3,207 699.7,237.3 697.2,275 694.7,313.3 692.4,351 690.1,389.2 687.5,425 684.8,462.1 682,490 680.5,505 679.5,512.8 677,518 673,520 657,527.3 624.9,541.8 592.7,557.8 560.6,573.9 528.5,590 496.4,606 464.2,620.5 432.1,633.3" fill="#d80000"/>
<polygon points="380,854 760,681.5 760,481.5 380,654" fill="#5b006f" stroke="#5b006f" stroke-width="1.2"/>
<polygon points="380,654 760,481.5 760,481.6 380,653.7" fill="#62007b" stroke="#62007b" stroke-width="1.2"/>
<polygon points="380,653.7 760,481.6 760,480.8 380,652.2" fill="#670087" stroke="#670087" stroke-width="1.2"/>
<polygon points="380,652.2 760,480.8 760,478.5 380,649.2" fill="#6d0092" stroke="#6d0092" stroke-width="1.2"/>
<polygon points="380,649.2 760,478.5 760,474.5 380,644.4" fill="#7000a5" stroke="#7000a5" stroke-width="1.2"/>
<polygon points="380,644.4 760,474.5 760,470.1 380,639.3" fill="#6e00bf" stroke="#6e00bf" stroke-width="1.2"/>
<polygon points="380,639.3 760,470.1 760,465.7 380,634.1" fill="#6900d6" stroke="#6900d6" stroke-width="1.2"/>
<polygon points="380,634.1 760,465.7 760,461.2 380,628.9" fill="#6300e2" stroke="#6300e2" stroke-width="1.2"/>
<polygon points="380,628.9 760,461.2 760,456.7 380,623.7" fill="#5900ef" stroke="#5900ef" stroke-width="1.2"/>
<polygon points="380,623.7 760,456.7 760,452.3 380,618.5" fill="#4700f8" stroke="#4700f8" stroke-width="1.2"/>
<polygon points="380,618.5 760,452.3 760,447.8 380,613.4" fill="#2b00f8" stroke="#2b00f8" stroke-width="1.2"/>
<polygon points="380,613.4 760,447.8 760,443.3 380,608.2" fill="#1900f8" stroke="#1900f8" stroke-width="1.2"/>
<polygon points="380,608.2 760,443.3 760,438.9 380,603" fill="#0a00f8" stroke="#0a00f8" stroke-width="1.2"/>
<polygon points="380,603 760,438.9 760,434.4 380,597.8" fill="#0609f8" stroke="#0609f8" stroke-width="1.2"/>
<polygon points="380,597.8 760,434.4 760,429.9 380,592.6" fill="#2534f8" stroke="#2534f8" stroke-width="1.2"/>
<polygon points="380,592.6 760,429.9 760,425.4 380,587.1" fill="#2d47f8" stroke="#2d47f8" stroke-width="1.2"/>
<polygon points="380,587.1 760,425.4 760,420.9 380,581.5" fill="#365bf8" stroke="#365bf8" stroke-width="1.2"/>
<polygon points="380,581.5 760,420.9 760,416.4 380,576" fill="#4173f8" stroke="#4173f8" stroke-width="1.2"/>
<polygon points="380,576 760,416.4 760,411.8 380,570.5" fill="#4f8df8" stroke="#4f8df8" stroke-width="1.2"/>
<polygon points="380,570.5 760,411.8 760,407.3 380,565" fill="#5a9bf8" stroke="#5a9bf8" stroke-width="1.2"/>
<polygon points="380,565 760,407.3 760,402.8 380,559.5" fill="#5fa7f8" stroke="#5fa7f8" stroke-width="1.2"/>
<polygon points="380,559.5 760,402.8 760,398.3 380,554" fill="#6abdf8" stroke="#6abdf8" stroke-width="1.2"/>
<polygon points="380,554 760,398.3 760,393.8 380,548.5" fill="#76d3f8" stroke="#76d3f8" stroke-width="1.2"/>
<polygon points="380,548.5 760,393.8 760,389.2 380,543" fill="#81ebf8" stroke="#81ebf8" stroke-width="1.2"/>
<polygon points="380,543 760,389.2 760,384.7 380,537.5" fill="#8efdf2" stroke="#8efdf2" stroke-width="1.2"/>
<polygon points="380,537.5 760,384.7 760,380.2 380,531.9" fill="#90f8c0" stroke="#90f8c0" stroke-width="1.2"/>
<polygon points="380,531.9 760,380.2 760,375.6 380,526.4" fill="#90f896" stroke="#90f896" stroke-width="1.2"/>
<polygon points="380,526.4 760,375.6 760,371.1 380,520.9" fill="#89f169" stroke="#89f169" stroke-width="1.2"/>
<polygon points="380,520.9 760,371.1 760,366.5 380,515.4" fill="#8ff744" stroke="#8ff744" stroke-width="1.2"/>
<polygon points="380,515.4 760,366.5 760,362 380,509.8" fill="#93f840" stroke="#93f840" stroke-width="1.2"/>
<polygon points="380,509.8 760,362 760,357.2 380,504.2" fill="#95f840" stroke="#95f840" stroke-width="1.2"/>
<polygon points="380,504.2 760,357.2 760,352.4 380,498.6" fill="#99f840" stroke="#99f840" stroke-width="1.2"/>
<polygon points="380,498.6 760,352.4 760,347.6 380,493" fill="#9ff840" stroke="#9ff840" stroke-width="1.2"/>
<polygon points="380,493 760,347.6 760,342.8 380,487.4" fill="#a5f840" stroke="#a5f840" stroke-width="1.2"/>
<polygon points="380,487.4 760,342.8 760,338 380,481.8" fill="#abf840" stroke="#abf840" stroke-width="1.2"/>
<polygon points="380,481.8 760,338 760,333.2 380,476.2" fill="#b1f840" stroke="#b1f840" stroke-width="1.2"/>
<polygon points="380,476.2 760,333.2 760,328.4 380,470.6" fill="#b6f840" stroke="#b6f840" stroke-width="1.2"/>
<polygon points="380,470.6 760,328.4 760,323.6 380,465" fill="#bffa40" stroke="#bffa40" stroke-width="1.2"/>
<polygon points="380,465 760,323.6 760,318.8 380,459.4" fill="#c9fd40" stroke="#c9fd40" stroke-width="1.2"/>
<polygon points="380,459.4 760,318.8 760,314 380,453.7" fill="#d2ff40" stroke="#d2ff40" stroke-width="1.2"/>
<polygon points="380,453.7 760,314 760,309.2 380,448.1" fill="#d9ff40" stroke="#d9ff40" stroke-width="1.2"/>
<polygon points="380,448.1 760,309.2 760,304.4 380,442.5" fill="#e1ff40" stroke="#e1ff40" stroke-width="1.2"/>
<polygon points="380,442.5 760,304.4 760,299.6 380,436.9" fill="#e8ff40" stroke="#e8ff40" stroke-width="1.2"/>
<polygon points="380,436.9 760,299.6 760,294.8 380,431.3" fill="#efff40" stroke="#efff40" stroke-width="1.2"/>
<polygon points="380,431.3 760,294.8 760,290 380,425.6" fill="#fbff40" stroke="#fbff40" stroke-width="1.2"/>
<polygon points="380,425.6 760,290 760,285.2 380,420" fill="#f8ee39" stroke="#f8ee39" stroke-width="1.2"/>
<polygon points="380,420 760,285.2 760,280.4 380,414.4" fill="#f0d730" stroke="#f0d730" stroke-width="1.2"/>
<polygon points="380,414.4 760,280.4 760,275.5 380,408.8" fill="#f0cd30" stroke="#f0cd30" stroke-width="1.2"/>
<polygon points="380,408.8 760,275.5 760,270.7 380,403.2" fill="#edc230" stroke="#edc230" stroke-width="1.2"/>
<polygon points="380,403.2 760,270.7 760,265.9 380,397.6" fill="#e8b62f" stroke="#e8b62f" stroke-width="1.2"/>
<polygon points="380,397.6 760,265.9 760,261.1 380,392" fill="#e8a429" stroke="#e8a429" stroke-width="1.2"/>
<polygon points="380,392 760,261.1 760,256.3 380,386.4" fill="#e39123" stroke="#e39123" stroke-width="1.2"/>
<polygon points="380,386.4 760,256.3 760,251.4 380,380.8" fill="#e07f1d" stroke="#e07f1d" stroke-width="1.2"/>
<polygon points="380,380.8 760,251.4 760,246.6 380,375.2" fill="#e06f18" stroke="#e06f18" stroke-width="1.2"/>
<polygon points="380,375.2 760,246.6 760,241.8 380,369.6" fill="#e06318" stroke="#e06318" stroke-width="1.2"/>
<polygon points="380,369.6 760,241.8 760,237 380,364" fill="#db5213" stroke="#db5213" stroke-width="1.2"/>
<polygon points="380,364 760,237 760,232.1 380,358.4" fill="#d83f0d" stroke="#d83f0d" stroke-width="1.2"/>
<polygon points="380,358.4 760,232.1 760,227.3 380,352.8" fill="#d82e08" stroke="#d82e08" stroke-width="1.2"/>
<polygon points="380,352.8 760,227.3 760,222.5 380,347.1" fill="#d81d08" stroke="#d81d08" stroke-width="1.2"/>
<polygon points="380,347.1 760,222.5 760,219.6 380,343.8" fill="#d80903" stroke="#d80903" stroke-width="1.2"/>
<polygon points="380,277.3 760,162.6 760,157.6 380,271.4" fill="#d70000" stroke="#d70000" stroke-width="1.2"/>
<polygon points="380,271.4 760,157.6 760,152.6 380,265.6" fill="#cf0000" stroke="#cf0000" stroke-width="1.2"/>
<polygon points="380,265.6 760,152.6 760,147.5 380,259.7" fill="#c70000" stroke="#c70000" stroke-width="1.2"/>
<polygon points="380,259.7 760,147.5 760,142.5 380,253.9" fill="#bf0000" stroke="#bf0000" stroke-width="1.2"/>
<polygon points="380,253.9 760,142.5 760,137.9 380,248.4" fill="#b70000" stroke="#b70000" stroke-width="1.2"/>
<polygon points="380,248.4 760,137.9 760,133.2 380,242.9" fill="#af0000" stroke="#af0000" stroke-width="1.2"/>
<polygon points="380,242.9 760,133.2 760,128.5 380,237.3" fill="#a80000" stroke="#a80000" stroke-width="1.2"/>
<polygon points="380,237.3 760,128.5 760,123.7 380,231.7" fill="#a00000" stroke="#a00000" stroke-width="1.2"/>
<polygon points="380,231.7 760,123.7 760,118.9 380,226.1" fill="#980000" stroke="#980000" stroke-width="1.2"/>
<polygon points="380,226.1 760,118.9 760,114.2 380,220.6" fill="#900000" stroke="#900000" stroke-width="1.2"/>
<polygon points="380,220.6 760,114.2 760,109.5 380,215" fill="#890000" stroke="#890000" stroke-width="1.2"/>
<polygon points="380,215 760,109.5 760,105 380,209.7" fill="#820000" stroke="#820000" stroke-width="1.2"/>
<polygon points="380,209.7 760,105 760,100.6 380,204.4" fill="#7c0000" stroke="#7c0000" stroke-width="1.2"/>
<polygon points="380,204.4 760,100.6 760,96.7 380,199.7" fill="#750000" stroke="#750000" stroke-width="1.2"/>
<polygon points="380,199.7 760,96.7 760,93.3 380,195.5" fill="#6f0000" stroke="#6f0000" stroke-width="1.2"/>
<polygon points="380,195.5 760,93.3 760,92 380,193.8" fill="#690000" stroke="#690000" stroke-width="1.2"/>
<polygon points="380,193.8 760,92 760,92 380,193.8" fill="#620000" stroke="#620000" stroke-width="1.2"/>
<polygon points="380,193.8 760,92 760,92 380,193.8" fill="#5b0000" stroke="#5b0000" stroke-width="1.2"/>
<polygon points="380,193.8 760,92 760,-208 380,-106.2" fill="#540000" stroke="#540000" stroke-width="1.2"/>
</g>
<path d="M414.7,577.7L684.8,462.1M419.8,494.4L690.1,389.2M425.3,409.5L694.7,313.3M460.9,315.1L699.7,237.3M585.4,193.7L706.5,158.2" stroke="#3a3a3a" stroke-opacity="0.75" stroke-width="1.1" fill="none"/>
<text transform="matrix(0.7661,-0.2933,0.0415,0.8744,96.86,574.60)" font-size="29" text-anchor="end" >0.0</text>
<text transform="matrix(0.7726,-0.2780,0.0421,0.8873,94.51,525.06)" font-size="29" text-anchor="end" >0.5</text>
<text transform="matrix(0.7791,-0.2623,0.0427,0.9004,92.13,474.78)" font-size="29" text-anchor="end" >1.0</text>
<text transform="matrix(0.7858,-0.2460,0.0433,0.9138,89.71,423.76)" font-size="29" text-anchor="end" >1.5</text>
<text transform="matrix(0.7925,-0.2293,0.0440,0.9275,87.25,371.97)" font-size="29" text-anchor="end" >2.0</text>
<text transform="matrix(0.7994,-0.2120,0.0446,0.9416,84.76,319.41)" font-size="29" text-anchor="end" >2.5</text>
<text transform="matrix(0.8064,-0.1941,0.0453,0.9559,82.23,266.04)" font-size="29" text-anchor="end" >3.0</text>
<text transform="matrix(0.8135,-0.1757,0.0460,0.9706,79.66,211.86)" font-size="29" text-anchor="end" >3.5</text>
<text transform="matrix(0.8208,-0.1567,0.0467,0.9857,77.05,156.84)" font-size="29" text-anchor="end" >4.0</text>
<text transform="matrix(0.8281,-0.1371,0.0475,1.0010,74.40,100.97)" font-size="29" text-anchor="end" >4.5</text>
<text transform="matrix(0.7496,-0.2941,0.6653,0.2487,134.49,580.98)" font-size="29" text-anchor="end" >0.0</text>
<text transform="matrix(0.7469,-0.3116,0.7039,0.2631,202.11,606.25)" font-size="29" text-anchor="end" >0.5</text>
<text transform="matrix(0.7425,-0.3306,0.7459,0.2788,273.72,633.01)" font-size="29" text-anchor="end" >1.0</text>
<text transform="matrix(0.7363,-0.3513,0.7918,0.2959,349.66,661.40)" font-size="29" text-anchor="end" >1.5</text>
<text transform="matrix(0.7278,-0.3741,0.8421,0.3147,430.35,691.56)" font-size="29" text-anchor="end" >2.0</text>
<text transform="matrix(0.7919,0.2956,-0.7429,0.3984,477.41,707.91)" font-size="29" text-anchor="start" >10</text>
<text transform="matrix(0.7855,0.2821,-0.7084,0.3799,520.09,685.03)" font-size="29" text-anchor="start" >20</text>
<text transform="matrix(0.7788,0.2696,-0.6763,0.3627,560.80,663.19)" font-size="29" text-anchor="start" >30</text>
<text transform="matrix(0.7720,0.2578,-0.6463,0.3466,599.69,642.33)" font-size="29" text-anchor="start" >40</text>
<text transform="matrix(0.7649,0.2469,-0.6182,0.3316,636.87,622.39)" font-size="29" text-anchor="start" >50</text>
<text transform="matrix(0.7578,0.2366,-0.5919,0.3175,672.45,603.31)" font-size="29" text-anchor="start" >60</text>
<text transform="matrix(0.7506,0.2269,-0.5673,0.3043,706.54,585.03)" font-size="29" text-anchor="start" >70</text>
<text transform="matrix(0.7433,0.2179,-0.5442,0.2919,739.23,567.50)" font-size="29" text-anchor="start" >80</text>
<text transform="matrix(0.7360,0.2094,-0.5225,0.2802,770.59,550.67)" font-size="29" text-anchor="start" >90</text>
<text transform="matrix(0.0613,1.0899,-0.8965,0.2451,24.59,354.05)" font-size="29" text-anchor="middle" >Electric field (10<tspan font-size="18" dy="-11">4</tspan><tspan dy="11"> V/cm)</tspan></text>
<text transform="matrix(0.8157,0.3201,-1.0096,0.4483,214.89,656.72)" font-size="29" text-anchor="middle" >Electrode spacing (mm)</text>
<text transform="matrix(0.6343,-0.3580,0.7930,0.2558,689.86,639.05)" font-size="29" text-anchor="middle" >Pulse rise rate (V/ns)</text>
<linearGradient id="cb" x1="0" y1="1" x2="0" y2="0"><stop offset="0.0000" stop-color="#580068"/><stop offset="0.0133" stop-color="#600078"/><stop offset="0.0289" stop-color="#680088"/><stop offset="0.0444" stop-color="#700098"/><stop offset="0.0578" stop-color="#7000b8"/><stop offset="0.0733" stop-color="#6800d8"/><stop offset="0.0889" stop-color="#6000e8"/><stop offset="0.1022" stop-color="#5000f8"/><stop offset="0.1178" stop-color="#2800f8"/><stop offset="0.1333" stop-color="#1000f8"/><stop offset="0.1478" stop-color="#0000f8"/><stop offset="0.1622" stop-color="#2838f8"/><stop offset="0.1778" stop-color="#3050f8"/><stop offset="0.1933" stop-color="#4070f8"/><stop offset="0.2067" stop-color="#5090f8"/><stop offset="0.2133" stop-color="#5898f8"/><stop offset="0.2289" stop-color="#60a8f8"/><stop offset="0.2444" stop-color="#70c8f8"/><stop offset="0.2600" stop-color="#80e8f8"/><stop offset="0.2667" stop-color="#88f8f8"/><stop offset="0.2740" stop-color="#90fff0"/><stop offset="0.2813" stop-color="#90f8c8"/><stop offset="0.2889" stop-color="#90f8a8"/><stop offset="0.2962" stop-color="#90f890"/><stop offset="0.3036" stop-color="#88f070"/><stop offset="0.3178" stop-color="#90f840"/><stop offset="0.3489" stop-color="#98f840"/><stop offset="0.3778" stop-color="#a8f840"/><stop offset="0.4089" stop-color="#b8f840"/><stop offset="0.4356" stop-color="#d0ff40"/><stop offset="0.4600" stop-color="#e0ff40"/><stop offset="0.4844" stop-color="#f0ff40"/><stop offset="0.4978" stop-color="#ffff40"/><stop offset="0.5156" stop-color="#f0d830"/><stop offset="0.5333" stop-color="#f0c830"/><stop offset="0.5489" stop-color="#e8b830"/><stop offset="0.5633" stop-color="#e8a028"/><stop offset="0.5778" stop-color="#e08820"/><stop offset="0.5933" stop-color="#e07018"/><stop offset="0.6089" stop-color="#e06018"/><stop offset="0.6222" stop-color="#d84810"/><stop offset="0.6378" stop-color="#d83008"/><stop offset="0.6533" stop-color="#d81808"/><stop offset="0.6622" stop-color="#d80000"/><stop offset="0.7933" stop-color="#d80000"/><stop offset="0.8489" stop-color="#b00000"/><stop offset="0.9067" stop-color="#880000"/><stop offset="0.9622" stop-color="#680000"/><stop offset="1.0000" stop-color="#500000"/></linearGradient>
<rect x="821.5" y="64.2" width="44.0" height="449.00000000000006" fill="url(#cb)" stroke="#333" stroke-width="1.2"/>
<text x="887" y="524.4" font-size="32.5">0.0</text>
<text x="887" y="449.6" font-size="32.5">0.8</text>
<text x="887" y="374.7" font-size="32.5">1.5</text>
<text x="887" y="299.9" font-size="32.5">2.3</text>
<text x="887" y="225.1" font-size="32.5">3.0</text>
<text x="887" y="150.2" font-size="32.5">3.8</text>
<text x="887" y="75.4" font-size="32.5">4.5</text>
<path d="M865.5,513.2h11M865.5,438.4h11M865.5,363.5h11M865.5,288.7h11M865.5,213.9h11M865.5,139.0h11M865.5,64.2h11" stroke="#222" stroke-width="1.5"/>
<text x="569.5" y="35" font-size="34.8">Electric field (10<tspan font-size="24" dy="-13">4</tspan><tspan dy="13"> V/cm)</tspan></text>
<text x="3" y="46" font-size="44" font-weight="bold">A</text>
<path d="M209,1325v-5M209,758v5M253,1325v-10M253,758v10M297,1325v-5M297,758v5M341,1325v-10M341,758v10M385,1325v-5M385,758v5M429,1325v-10M429,758v10M473,1325v-5M473,758v5M517,1325v-10M517,758v10M561,1325v-5M561,758v5M605,1325v-10M605,758v10M649,1325v-5M649,758v5M693,1325v-10M693,758v10M737,1325v-5M737,758v5M781,1325v-10M781,758v10M825,1325v-5M825,758v5M165,1289.6h10M869,1289.6h-10M165,1254.1h5M869,1254.1h-5M165,1218.7h10M869,1218.7h-10M165,1183.2h5M869,1183.2h-5M165,1147.8h10M869,1147.8h-10M165,1112.4h5M869,1112.4h-5M165,1076.9h10M869,1076.9h-10M165,1041.5h5M869,1041.5h-5M165,1006.1h10M869,1006.1h-10M165,970.6h5M869,970.6h-5M165,935.2h10M869,935.2h-10M165,899.8h5M869,899.8h-5M165,864.3h10M869,864.3h-10M165,828.9h5M869,828.9h-5M165,793.4h10M869,793.4h-10" stroke="#000" stroke-width="2" fill="none"/>
<rect x="165" y="758" width="704" height="567" fill="none" stroke="#000" stroke-width="2"/>
<text x="165.5" y="1362.5" text-anchor="middle" font-size="33">10</text>
<text x="253.5" y="1362.5" text-anchor="middle" font-size="33">20</text>
<text x="341.5" y="1362.5" text-anchor="middle" font-size="33">30</text>
<text x="429.5" y="1362.5" text-anchor="middle" font-size="33">40</text>
<text x="517.5" y="1362.5" text-anchor="middle" font-size="33">50</text>
<text x="605.5" y="1362.5" text-anchor="middle" font-size="33">60</text>
<text x="693.5" y="1362.5" text-anchor="middle" font-size="33">70</text>
<text x="781.5" y="1362.5" text-anchor="middle" font-size="33">80</text>
<text x="869.5" y="1362.5" text-anchor="middle" font-size="33">90</text>
<text x="153.5" y="1300.2" text-anchor="end" font-size="33">3.0</text>
<text x="153.5" y="1229.3" text-anchor="end" font-size="33">3.2</text>
<text x="153.5" y="1158.4" text-anchor="end" font-size="33">3.4</text>
<text x="153.5" y="1087.5" text-anchor="end" font-size="33">3.6</text>
<text x="153.5" y="1016.7" text-anchor="end" font-size="33">3.8</text>
<text x="153.5" y="945.8" text-anchor="end" font-size="33">4.0</text>
<text x="153.5" y="874.9" text-anchor="end" font-size="33">4.2</text>
<text x="153.5" y="804" text-anchor="end" font-size="33">4.4</text>
<text x="518" y="1409.5" text-anchor="middle" font-size="35">Pulse rise rate (V/ns)</text>
<text transform="translate(85.6,1041) rotate(-90)" text-anchor="middle" font-size="35">Maximum electric field (10<tspan font-size="22" dy="-15">4</tspan><tspan dy="15"> V/cm)</tspan></text>
<text x="215" y="829.5" font-size="32.5">5000 V</text>
<text x="0" y="780" font-size="44" font-weight="bold">B</text>
<path d="M209,1281.8 L221.3,1262.8 L233.6,1245.2 L246,1228.8 L258.3,1213.3 L270.6,1198.5 L282.9,1184.4 L295.2,1170.7 L307.6,1157.5 L319.9,1144.8 L332.2,1132.4 L344.5,1120.3 L356.8,1108.6 L369.2,1097.2 L381.5,1086.1 L393.8,1075.3 L406.1,1064.7 L418.4,1054.4 L430.8,1044.4 L443.1,1034.6 L455.4,1025 L467.7,1015.7 L480,1006.5 L492.4,997.6 L504.7,988.9 L517,980.4 L529.3,972.1 L541.6,964 L554,956.1 L566.3,948.3 L578.6,940.8 L590.9,933.4 L603.2,926.2 L615.6,919.1 L627.9,912.2 L640.2,905.5 L652.5,899 L664.8,892.5 L677.2,886.3 L689.5,880.2 L701.8,874.2 L714.1,868.4 L726.4,862.7 L738.8,857.1 L751.1,851.7 L763.4,846.4 L775.7,841.2 L788,836.2 L800.4,831.2 L812.7,826.4 L825,821.7" stroke="#000" stroke-width="2.5" fill="none"/>
<path d="M203.5,1276.3h11v11h-11zM215.8,1257.3h11v11h-11zM228.1,1239.7h11v11h-11zM240.5,1223.3h11v11h-11zM252.8,1207.8h11v11h-11zM265.1,1193h11v11h-11zM277.4,1178.9h11v11h-11zM289.7,1165.2h11v11h-11zM302.1,1152h11v11h-11zM314.4,1139.3h11v11h-11zM326.7,1126.9h11v11h-11zM339,1114.8h11v11h-11zM351.3,1103.1h11v11h-11zM363.7,1091.7h11v11h-11zM376,1080.6h11v11h-11zM388.3,1069.8h11v11h-11zM400.6,1059.2h11v11h-11zM412.9,1048.9h11v11h-11zM425.3,1038.9h11v11h-11zM437.6,1029.1h11v11h-11zM449.9,1019.5h11v11h-11zM462.2,1010.2h11v11h-11zM474.5,1001h11v11h-11zM486.9,992.1h11v11h-11zM499.2,983.4h11v11h-11zM511.5,974.9h11v11h-11zM523.8,966.6h11v11h-11zM536.1,958.5h11v11h-11zM548.5,950.6h11v11h-11zM560.8,942.8h11v11h-11zM573.1,935.3h11v11h-11zM585.4,927.9h11v11h-11zM597.7,920.7h11v11h-11zM610.1,913.6h11v11h-11zM622.4,906.7h11v11h-11zM634.7,900h11v11h-11zM647,893.5h11v11h-11zM659.3,887h11v11h-11zM671.7,880.8h11v11h-11zM684,874.7h11v11h-11zM696.3,868.7h11v11h-11zM708.6,862.9h11v11h-11zM720.9,857.2h11v11h-11zM733.3,851.6h11v11h-11zM745.6,846.2h11v11h-11zM757.9,840.9h11v11h-11zM770.2,835.7h11v11h-11zM782.5,830.7h11v11h-11zM794.9,825.7h11v11h-11zM807.2,820.9h11v11h-11zM819.5,816.2h11v11h-11z" fill="#000"/>
</svg>
</body></html>
